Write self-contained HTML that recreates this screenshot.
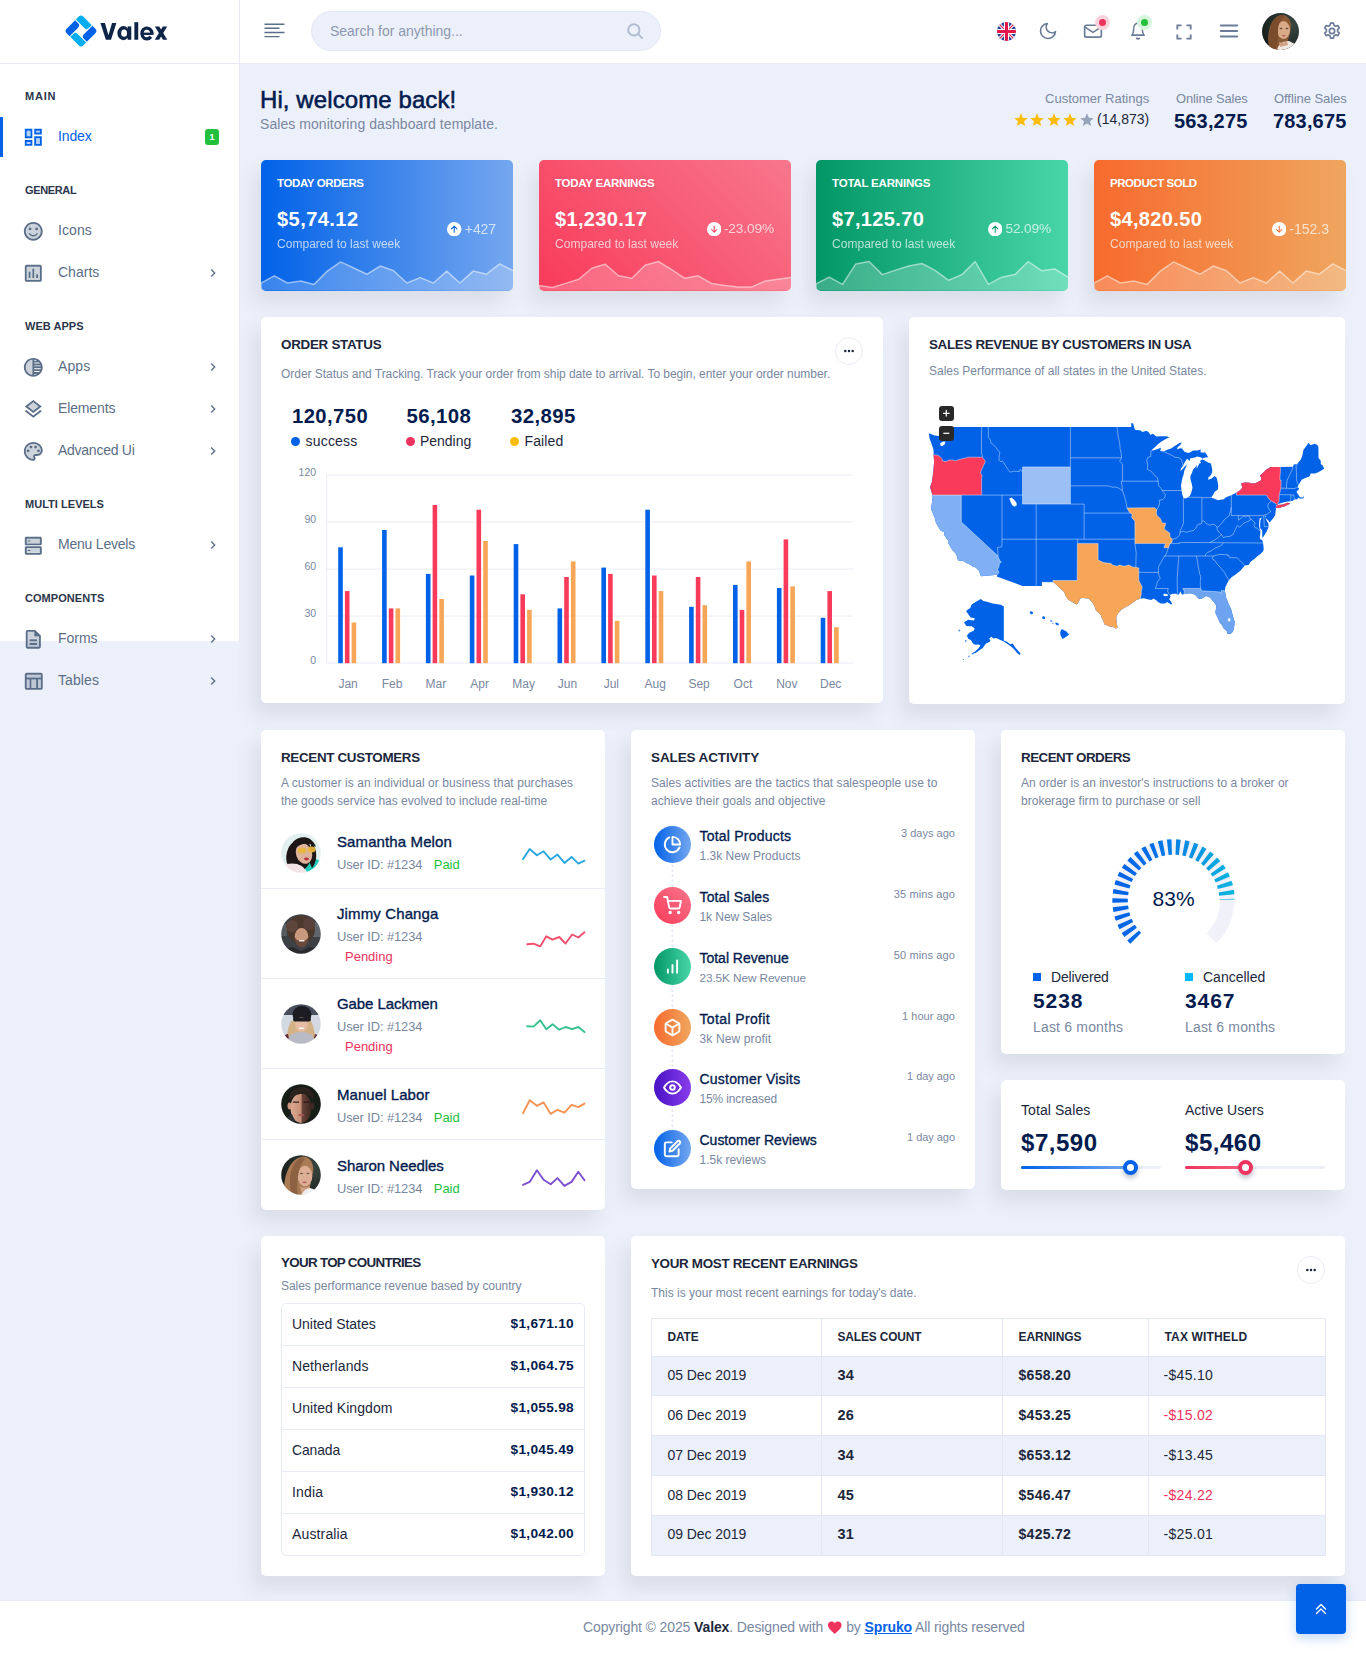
<!DOCTYPE html>
<html lang="en"><head>
<meta charset="utf-8">
<title>Valex - Dashboard</title>
<style>
*{box-sizing:border-box;margin:0;padding:0}
html,body{width:1366px;height:1654px;overflow:hidden}
body{font-family:"Liberation Sans",sans-serif;background:#ecf0fa;color:#031b4e;font-size:14px;position:relative}
.abs{position:absolute}
svg{display:block}
/* header */
#hdr{position:absolute;left:0;top:0;width:1366px;height:64px;background:#fff;border-bottom:1px solid #e9ecf6}
#logo{position:absolute;left:0;top:0;width:240px;height:64px;border-right:1px solid #eae8f4;border-bottom:1px solid #e8e7f3;background:#fff}
#side{position:absolute;left:0;top:64px;width:240px;height:577px;background:#fff;border-right:1px solid #eae8f4}
.slabel{position:absolute;left:25px;font-size:11px;font-weight:700;letter-spacing:.5px;color:#2c364c;line-height:12px;white-space:nowrap}
.sitem{position:absolute;left:0;width:240px;height:42px}
.sitem svg.ic{position:absolute;left:21.800px;top:9.700px;width:22.600px;height:22.600px;fill:#5b6e88}
.sitem .tx{position:absolute;left:58px;top:11px;font-size:14px;line-height:18px;color:#5b6e88;white-space:nowrap}
.sitem svg.ch{position:absolute;left:205px;top:12.900px;width:16px;height:16px;fill:#5b6e88}
.sitem.act .tx{color:#0162e8}
.sitem.act svg.ic{fill:#0162e8}
.sitem.act:before{content:"";position:absolute;left:0;top:1px;width:3px;height:40px;background:#0162e8}
.badge1{position:absolute;left:205px;top:13px;width:14px;height:16px;border-radius:3px;background:#22c03c;color:#fff;font-size:9px;font-weight:700;line-height:16px;text-align:center}
.card{position:absolute;background:#fff;border-radius:5px;box-shadow:-8px 12px 18px 0 #dadee8}
.ctitle{position:absolute;margin-top:.5px;font-size:13px;font-weight:700;color:#1c273c;white-space:nowrap;line-height:16px;letter-spacing:-.2px}
.csub{position:absolute;font-size:12px;color:#7987a1;line-height:18px;white-space:nowrap;letter-spacing:-.15px}
.t{position:absolute;white-space:nowrap}
</style>
</head>
<body>
<div id="hdr">
  <!-- hamburger -->
  <svg class="abs" style="left:262px;top:18px;width:24px;height:24px" viewBox="0 0 24 24" fill="none" stroke="#5b6e88" stroke-width="1.4" stroke-linecap="butt"><path d="M2.5 6.2h20M2.5 10.3h15M2.5 14.5h20M2.5 18.6h15"></path></svg>
  <!-- search -->
  <div class="abs" style="left:311px;top:11px;width:350px;height:40px;border-radius:20px;background:#ecf0fa;border:1px solid #e3e8f5"></div>
  <div class="t" style="left: 330px; top: 22px; font-size: 14px; line-height: 18px; color: rgb(140, 152, 176); letter-spacing: -0.02px;">Search for anything...</div>
  <svg class="abs" style="left:626px;top:22px;width:18px;height:18px" viewBox="0 0 24 24" fill="none" stroke="#b1bbd0" stroke-width="2.6" stroke-linecap="round"><circle cx="10.5" cy="10.5" r="7.5"></circle><path d="M21.5 21.500l-5.600-5.600"></path></svg>
  <!-- flag -->
  <svg class="abs" style="left:997.200px;top:22px;width:19px;height:19px" viewBox="0 0 20 20">
    <defs><clipPath id="fc"><circle cx="10" cy="10" r="10"></circle></clipPath></defs>
    <g clip-path="url(#fc)">
      <rect width="20" height="20" fill="#1f3f95"></rect>
      <path d="M-2 -2L22 22M22 -2L-2 22" stroke="#fff" stroke-width="3.200"></path>
      <path d="M-2 -2L22 22M22 -2L-2 22" stroke="#e4174a" stroke-width="1.200"></path>
      <path d="M10 0v20M0 10h20" stroke="#fff" stroke-width="5.400"></path>
      <path d="M10 0v20M0 10h20" stroke="#e4174a" stroke-width="3.200"></path>
    </g>
  </svg>
  <!-- moon -->
  <svg class="abs" style="left:1038px;top:21px;width:20px;height:20px" viewBox="0 0 24 24" fill="none" stroke="#6b7c99" stroke-width="2" stroke-linecap="round" stroke-linejoin="round"><path d="M21 12.790A9 9 0 1 1 11.210 3 7 7 0 0 0 21 12.790z"></path></svg>
  <!-- mail -->
  <svg class="abs" style="left:1083px;top:21px;width:20px;height:20px" viewBox="0 0 24 24" fill="none" stroke="#6b7c99" stroke-width="2" stroke-linecap="round" stroke-linejoin="round"><path d="M4 5.100h16c1.100 0 2 .9 2 2v10.300c0 1.100-.9 2-2 2H4c-1.100 0-2-.9-2-2V7.100c0-1.100.9-2 2-2z"></path><polyline points="22,7 12,13.600 2,7"></polyline></svg>
  <div class="abs" style="left:1095px;top:15px;width:15px;height:15px;border-radius:50%;background:#fbd3dd"></div>
  <div class="abs" style="left:1098.800px;top:18.800px;width:7.400px;height:7.400px;border-radius:50%;background:#ee335e"></div>
  <!-- bell -->
  <svg class="abs" style="left:1128px;top:21px;width:20px;height:20px" viewBox="0 0 24 24" fill="none" stroke="#6b7c99" stroke-width="2" stroke-linecap="round" stroke-linejoin="round"><g transform="translate(12 0) scale(.86 1) translate(-12 0)"><path d="M18 8.500A6 6 0 0 0 6 8.500c0 6.500-2.600 8.500-2.600 8.500h17.200s-2.600-2-2.600-8.500"></path></g><path d="M13.500 20.600a1.800 1.800 0 0 1-3 0"></path></svg>
  <div class="abs" style="left:1136.800px;top:14.700px;width:15px;height:15px;border-radius:50%;background:#d6f5dc"></div>
  <div class="abs" style="left:1140.600px;top:18.500px;width:7.400px;height:7.400px;border-radius:50%;background:#22c03c"></div>
  <!-- fullscreen -->
  <svg class="abs" style="left:1174px;top:22px;width:20px;height:20px" viewBox="0 0 24 24" fill="none" stroke="#6b7c99" stroke-width="2.2" stroke-linecap="butt" stroke-linejoin="miter"><path d="M4 9V4h5M15 4h5v5M20 15v5h-5M9 20H4v-5"></path></svg>
  <!-- menu -->
  <svg class="abs" style="left:1218px;top:20px;width:22px;height:22px" viewBox="0 0 24 24" fill="none" stroke="#6b7c99" stroke-width="2" stroke-linecap="round"><path d="M3 6h18M3 12h18M3 18h18"></path></svg>
  <!-- avatar -->
  <svg class="abs" style="left:1262px;top:13px;width:37px;height:37px" viewBox="0 0 37 37">
    <defs><clipPath id="avc"><circle cx="18.5" cy="18.5" r="18.5"></circle></clipPath>
    <radialGradient id="avbg" cx="0.8" cy="0.3" r="0.9"><stop offset="0" stop-color="#3a4a45"></stop><stop offset="1" stop-color="#121a18"></stop></radialGradient></defs>
    <g clip-path="url(#avc)">
      <rect width="37" height="37" fill="url(#avbg)"></rect>
      <path d="M8 37C4 24 7 8 16 3c7-3 13 2 13 10 0 6-2 11-3 14l3 10z" fill="#8a5a36"></path>
      <ellipse cx="21.500" cy="17" rx="6.500" ry="9" fill="#d9a988"></ellipse>
      <path d="M8 37C5 26 7 10 15 4c3-2 6-2 8-1-5 3-7 9-7 16 0 8-1 14-3 18z" fill="#7a4c2c"></path>
      <path d="M15 37c1-4 3-6 6-8l6-1 6 3 4 6z" fill="#efe9e4"></path>
      <path d="M17 29c2 1 6 1 8-1l1 4-8 2z" fill="#d3a184"></path>
      <ellipse cx="21.800" cy="22.800" rx="2" ry=".8" fill="#b5605e"></ellipse>
      <ellipse cx="19" cy="15.500" rx="1.400" ry=".7" fill="#5a4538"></ellipse><ellipse cx="25" cy="15.500" rx="1.400" ry=".7" fill="#5a4538"></ellipse>
    </g>
  </svg>
  <!-- settings -->
  <svg class="abs" style="left:1322px;top:21px;width:20px;height:20px" viewBox="0 0 24 24" fill="none" stroke="#6b7c99" stroke-width="2" stroke-linejoin="round" stroke-linecap="round"><circle cx="12" cy="12" r="3.200"></circle><path d="M10.300 2.500h3.400l.7 2.700 1.900 1.100 2.700-.8 1.700 2.900-2 2v2.200l2 2-1.700 2.900-2.700-.8-1.900 1.100-.7 2.700h-3.400l-.7-2.700-1.900-1.100-2.700.8-1.700-2.900 2-2v-2.200l-2-2 1.700-2.900 2.700.8 1.900-1.100z"></path></svg>
</div>
<div id="logo">
  <svg class="abs" style="left:61.200px;top:11.100px;width:40px;height:40px" viewBox="-20.500 -20.500 41 41">
    <g transform="rotate(45)">
      <path d="M-8.82 -12.02H3.53V-7.72A3.2 3.2 0 0 1 0.33 -4.52H-12.02V-8.82A3.2 3.2 0 0 1 -8.82 -12.02Z" fill="#00adef"></path>
      <path d="M-8.82 -12.02H3.53V-7.72A3.2 3.2 0 0 1 0.33 -4.52H-12.02V-8.82A3.2 3.2 0 0 1 -8.82 -12.02Z" fill="#0162e8" transform="rotate(90)"></path>
      <path d="M-8.82 -12.02H3.53V-7.72A3.2 3.2 0 0 1 0.33 -4.52H-12.02V-8.82A3.2 3.2 0 0 1 -8.82 -12.02Z" fill="#00adef" transform="rotate(180)"></path>
      <path d="M-8.82 -12.02H3.53V-7.72A3.2 3.2 0 0 1 0.33 -4.52H-12.02V-8.82A3.2 3.2 0 0 1 -8.82 -12.02Z" fill="#0162e8" transform="rotate(270)"></path>
    </g>
  </svg>
  <svg class="abs" style="left:96px;top:14px;width:80px;height:34px" viewBox="0 0 1366 581" fill="#0f2548">
    <path d="M75 152H152L212 362 273 152H348L256 440H168Z"></path>
    <path fill-rule="evenodd" d="M365 327a103 120 0 1 0 206 0a103 120 0 1 0-206 0ZM430 327a50 60 0 1 1 100 0a50 60 0 1 1-100 0Z"></path>
    <rect x="540" y="212" width="62" height="228"></rect>
    <rect x="655" y="140" width="66" height="300"></rect>
    <path d="M955 338A86 92 0 1 0 938 388" fill="none" stroke="#0f2548" stroke-width="56"></path>
    <path d="M800 338H982" fill="none" stroke="#0f2548" stroke-width="40"></path>
    <path d="M1006 215h74l138 225h-74Z"></path><path d="M1142 215h74l-138 225h-74Z"></path>
  </svg>
</div>
<div id="side"></div>
<div id="sidei" class="abs" style="left:0;top:0;width:240px;height:720px">
<div class="slabel" style="top: 90px; letter-spacing: 0.76px;">MAIN</div>
<div class="slabel" style="top: 184px; letter-spacing: -0.35px;">GENERAL</div>
<div class="slabel" style="top: 320px; letter-spacing: 0.03px;">WEB APPS</div>
<div class="slabel" style="top: 498px; letter-spacing: 0.03px;">MULTI LEVELS</div>
<div class="slabel" style="top: 592px; letter-spacing: 0.06px;">COMPONENTS</div>
<div class="sitem act" style="top:116px"><svg class="ic" viewBox="0 0 24 24"><path d="M5 5h4v6H5zm10 8h4v6h-4zM5 17h4v2H5zM15 5h4v2h-4z" opacity=".3"></path><path d="M3 13h8V3H3v10zm2-8h4v6H5V5zm8 16h8V11h-8v10zm2-8h4v6h-4v-6zM13 3v6h8V3h-8zm6 4h-4V5h4v2zM3 21h8v-6H3v6zm2-4h4v2H5v-2z"></path></svg><div class="tx" style="letter-spacing: -0.12px;">Index</div><div class="badge1">1</div></div>
<div class="sitem" style="top:210px"><svg class="ic" viewBox="0 0 24 24"><circle cx="12" cy="12" r="8.500" opacity=".3"></circle><circle cx="15.500" cy="9.500" r="1.500"></circle><circle cx="8.500" cy="9.500" r="1.500"></circle><path d="M12 16c-1.480 0-2.750-.810-3.450-2H6.880c.8 2.050 2.790 3.500 5.120 3.500s4.320-1.450 5.120-3.500h-1.670c-.7 1.190-1.970 2-3.450 2zm-.010-14C6.470 2 2 6.480 2 12s4.470 10 9.990 10C17.520 22 22 17.520 22 12S17.520 2 11.990 2zM12 20c-4.420 0-8-3.580-8-8s3.580-8 8-8 8 3.580 8 8-3.580 8-8 8z"></path></svg><div class="tx" style="letter-spacing: 0.07px;">Icons</div></div>
<div class="sitem" style="top:252px"><svg class="ic" viewBox="0 0 24 24"><path d="M5 19h14V5H5v14zm10-6h2v4h-2v-4zm-4-6h2v10h-2V7zm-4 3h2v7H7v-7z" opacity=".3"></path><path d="M19 3H5c-1.100 0-2 .9-2 2v14c0 1.100.9 2 2 2h14c1.100 0 2-.9 2-2V5c0-1.100-.9-2-2-2zm0 16H5V5h14v14zM7 10h2v7H7zm4-3h2v10h-2zm4 6h2v4h-2z"></path></svg><div class="tx" style="letter-spacing: 0.01px;">Charts</div><svg class="ch" viewBox="0 0 24 24"><path d="M8.590 16.580 13.170 12 8.590 7.410 10 6l6 6-6 6z"></path></svg></div>
<div class="sitem" style="top:346px"><svg class="ic" viewBox="0 0 24 24"><path d="M4 12c0 4.080 3.060 7.440 7 7.930V4.070C7.050 4.560 4 7.920 4 12z" opacity=".3"></path><path d="M12 2C6.480 2 2 6.480 2 12s4.480 10 10 10 10-4.480 10-10S17.520 2 12 2zm-1 17.930c-3.940-.49-7-3.850-7-7.930s3.050-7.440 7-7.930v15.860zm2-15.860c1.030.13 2 .45 2.870.93H13v-.93zM13 7h5.240c.25.310.48.650.68 1H13V7zm0 3h6.740c.08.330.15.660.19 1H13v-1zm0 9.930V19h2.870c-.87.480-1.840.8-2.870.93zM18.240 17H13v-1h5.920c-.2.350-.43.690-.68 1zm1.500-3H13v-1h6.930c-.04.340-.11.670-.19 1z"></path></svg><div class="tx" style="letter-spacing: 0.11px;">Apps</div><svg class="ch" viewBox="0 0 24 24"><path d="M8.590 16.580 13.170 12 8.590 7.410 10 6l6 6-6 6z"></path></svg></div>
<div class="sitem" style="top:388px"><svg class="ic" viewBox="0 0 24 24"><path d="M6.260 9L12 13.470 17.740 9 12 4.530z" opacity=".3"></path><path d="M19.370 12.800l-7.380 5.740-7.370-5.730L3 14.070l9 7 9-7zM12 2L3 9l1.630 1.270L12 16l7.360-5.730L21 9l-9-7zm0 11.470L6.260 9 12 4.530 17.740 9 12 13.470z"></path></svg><div class="tx" style="letter-spacing: -0.14px;">Elements</div><svg class="ch" viewBox="0 0 24 24"><path d="M8.590 16.580 13.170 12 8.590 7.410 10 6l6 6-6 6z"></path></svg></div>
<div class="sitem" style="top:430px"><svg class="ic" viewBox="0 0 24 24"><path d="M12 4c-4.410 0-8 3.590-8 8s3.590 8 8 8c.28 0 .5-.22.5-.5 0-.16-.08-.28-.14-.35-.41-.46-.63-1.050-.63-1.650 0-1.380 1.120-2.500 2.500-2.500H16c2.210 0 4-1.790 4-4 0-3.860-3.590-7-8-7z" opacity=".3"></path><path d="M12 2C6.490 2 2 6.490 2 12s4.490 10 10 10c1.380 0 2.500-1.120 2.500-2.500 0-.61-.23-1.210-.64-1.670-.08-.09-.13-.21-.13-.33 0-.28.220-.5.5-.5H16c3.310 0 6-2.690 6-6 0-4.960-4.490-9-10-9zm4 13h-1.770c-1.380 0-2.500 1.120-2.500 2.500 0 .61.220 1.190.63 1.650.06.070.14.190.14.350 0 .28-.22.5-.5.5-4.410 0-8-3.590-8-8s3.590-8 8-8 8 3.140 8 7c0 2.210-1.790 4-4 4z"></path><circle cx="6.500" cy="11.500" r="1.500"></circle><circle cx="9.500" cy="7.500" r="1.500"></circle><circle cx="14.500" cy="7.500" r="1.500"></circle><circle cx="17.500" cy="11.500" r="1.500"></circle></svg><div class="tx" style="letter-spacing: -0.26px;">Advanced Ui</div><svg class="ch" viewBox="0 0 24 24"><path d="M8.590 16.580 13.170 12 8.590 7.410 10 6l6 6-6 6z"></path></svg></div>
<div class="sitem" style="top:524px"><svg class="ic" viewBox="0 0 24 24"><path d="M4.500 5h15v5h-15zM4.500 14h15v5h-15z" opacity=".3"></path><path d="M19.500 3h-15C3.670 3 3 3.670 3 4.500v6c0 .83.670 1.500 1.500 1.500h15c.83 0 1.500-.67 1.500-1.500v-6c0-.83-.67-1.500-1.500-1.500zM19 10H5V5h14v5zM19.500 13h-15c-.83 0-1.500.67-1.500 1.500v6c0 .83.670 1.500 1.500 1.500h15c.83 0 1.500-.67 1.500-1.500v-6c0-.83-.67-1.500-1.500-1.500zM19 20H5v-5h14v5z"></path><path d="M6 7h3v1H6zM6 17h3v1H6z"></path></svg><div class="tx" style="letter-spacing: -0.22px;">Menu Levels</div><svg class="ch" viewBox="0 0 24 24"><path d="M8.590 16.580 13.170 12 8.590 7.410 10 6l6 6-6 6z"></path></svg></div>
<div class="sitem" style="top:618px"><svg class="ic" viewBox="0 0 24 24"><path d="M13 4H6v16h12V9h-5V4zm3 14H8v-2h8v2zm0-6v2H8v-2h8z" opacity=".3"></path><path d="M8 16h8v2H8zm0-4h8v2H8zm6-10H6c-1.100 0-2 .9-2 2v16c0 1.100.89 2 1.990 2H18c1.100 0 2-.9 2-2V8l-6-6zm4 18H6V4h7v5h5v11z"></path></svg><div class="tx" style="letter-spacing: -0.03px;">Forms</div><svg class="ch" viewBox="0 0 24 24"><path d="M8.590 16.580 13.170 12 8.590 7.410 10 6l6 6-6 6z"></path></svg></div>
<div class="sitem" style="top:660px"><svg class="ic" viewBox="0 0 24 24"><path d="M5 5h15v3H5zm12 5h3v9h-3zm-7 0h5v9h-5zm-5 0h3v9H5z" opacity=".3"></path><path d="M20 3H5c-1.100 0-2 .9-2 2v14c0 1.100.9 2 2 2h15c1.100 0 2-.9 2-2V5c0-1.100-.9-2-2-2zM8 19H5v-9h3v9zm7 0h-5v-9h5v9zm5 0h-3v-9h3v9zm0-11H5V5h15v3z"></path></svg><div class="tx" style="letter-spacing: 0.1px;">Tables</div><svg class="ch" viewBox="0 0 24 24"><path d="M8.590 16.580 13.170 12 8.590 7.410 10 6l6 6-6 6z"></path></svg></div>
</div>
<div class="t" style="left: 260px; top: 85px; font-size: 24px; line-height: 30px; font-weight: 400; -webkit-text-stroke: 0.55px rgb(3, 27, 78); color: rgb(3, 27, 78); letter-spacing: 0.09px;">Hi, welcome back!</div>
<div class="t" style="left: 260px; top: 115px; font-size: 14px; line-height: 18px; color: rgb(121, 135, 161); letter-spacing: 0.06px;">Sales monitoring dashboard template.</div>
<div class="t" style="left: 1045px; top: 90.8px; font-size: 13px; line-height: 16px; color: rgb(121, 135, 161); letter-spacing: 0.01px;">Customer Ratings</div>
<svg class="abs" style="left:1012.5px;top:111.500px;width:16px;height:16px" viewBox="0 0 24 24"><path d="M12 17.270 18.180 21l-1.640-7.030L22 9.240l-7.190-.61L12 2 9.190 8.630 2 9.240l5.460 4.730L5.820 21z" fill="#fbbc0b"></path></svg>
<svg class="abs" style="left:1029.0px;top:111.500px;width:16px;height:16px" viewBox="0 0 24 24"><path d="M12 17.270 18.180 21l-1.640-7.030L22 9.240l-7.190-.61L12 2 9.190 8.630 2 9.240l5.460 4.730L5.820 21z" fill="#fbbc0b"></path></svg>
<svg class="abs" style="left:1045.5px;top:111.500px;width:16px;height:16px" viewBox="0 0 24 24"><path d="M12 17.270 18.180 21l-1.640-7.030L22 9.240l-7.190-.61L12 2 9.190 8.630 2 9.240l5.460 4.730L5.820 21z" fill="#fbbc0b"></path></svg>
<svg class="abs" style="left:1062.0px;top:111.500px;width:16px;height:16px" viewBox="0 0 24 24"><path d="M12 17.270 18.180 21l-1.640-7.030L22 9.240l-7.190-.61L12 2 9.190 8.630 2 9.240l5.460 4.730L5.820 21z" fill="#fbbc0b"></path></svg>
<svg class="abs" style="left:1078.5px;top:111.500px;width:16px;height:16px" viewBox="0 0 24 24"><path d="M12 17.270 18.180 21l-1.640-7.030L22 9.240l-7.190-.61L12 2 9.190 8.630 2 9.240l5.460 4.730L5.820 21z" fill="#97a3b9"></path></svg>
<div class="t" style="left: 1097px; top: 110px; font-size: 14px; line-height: 18px; color: rgb(28, 39, 60); letter-spacing: 0.01px;">(14,873)</div>
<div class="t" style="left: 1176px; top: 90.8px; font-size: 12.9px; line-height: 16px; color: rgb(121, 135, 161); letter-spacing: -0.13px;">Online Sales</div>
<div class="t" style="left: 1174px; top: 108px; font-size: 20px; line-height: 26px; font-weight: 700; color: rgb(3, 27, 78); letter-spacing: 0.17px;">563,275</div>
<div class="t" style="left: 1274px; top: 90.8px; font-size: 13px; line-height: 16px; color: rgb(121, 135, 161); letter-spacing: -0.07px;">Offline Sales</div>
<div class="t" style="left: 1273px; top: 108px; font-size: 20px; line-height: 26px; font-weight: 700; color: rgb(3, 27, 78); letter-spacing: 0.17px;">783,675</div>
<div class="card" style="left:261px;top:160px;width:252px;height:130.5px;background:linear-gradient(to right,#0162e8 0%,#75a7ef 100%);overflow:hidden">
<div class="t" style="left: 16px; top: 15.3px; font-size: 11.5px; line-height: 16px; font-weight: 700; color: rgb(255, 255, 255); letter-spacing: -0.38px;">TODAY ORDERS</div>
<div class="t" style="left: 16px; top: 46px; font-size: 20.1px; line-height: 26px; font-weight: 700; color: rgb(255, 255, 255); letter-spacing: 0.41px;">$5,74.12</div>
<div class="t" style="left: 16px; top: 76.2px; font-size: 12px; line-height: 16px; color: rgb(255, 255, 255); opacity: 0.7; letter-spacing: 0.03px;">Compared to last week</div>
<div class="t" style="right: 17px; top: 60px; font-size: 14px; line-height: 18px; color: rgb(255, 255, 255); opacity: 0.7; letter-spacing: -0.1px;">+427</div>
<svg class="abs" style="left:186.4px;top:61.700px;width:14.400px;height:14.400px" viewBox="0 0 24 24"><circle cx="12" cy="12" r="12" fill="#fff"></circle><path d="M12 17V7.500M7.500 11.500 12 7l4.500 4.500" fill="none" stroke="#0162e8" stroke-width="1.700" stroke-linecap="round" stroke-linejoin="round"></path></svg>
<svg class="abs" style="left:0;top:0;width:252px;height:130.5px" viewBox="0 0 252 130.5"><path d="M0,130.5 L0.0,123.0 L13.3,115.8 L26.5,123.0 L39.8,120.9 L53.1,124.4 L66.3,111.1 L79.6,101.9 L92.8,108.0 L106.1,114.2 L119.4,106.0 L132.6,110.7 L145.9,123.0 L159.2,117.6 L172.4,123.0 L185.7,111.1 L198.9,123.0 L212.2,111.1 L225.5,114.2 L238.7,103.9 L252.0,110.7 L252,130.5Z" fill="#fff" fill-opacity=".22"></path><path d="M0,130.5 L0.0,123.0 L13.3,115.8 L26.5,123.0 L39.8,120.9 L53.1,124.4 L66.3,111.1 L79.6,101.9 L92.8,108.0 L106.1,114.2 L119.4,106.0 L132.6,110.7 L145.9,123.0 L159.2,117.6 L172.4,123.0 L185.7,111.1 L198.9,123.0 L212.2,111.1 L225.5,114.2 L238.7,103.9 L252.0,110.7" fill="none" stroke="#fff" stroke-opacity=".5" stroke-width="1.500" stroke-linejoin="round"></path></svg>
</div>
<div class="card" style="left:539px;top:160px;width:252px;height:130.5px;background:linear-gradient(45deg,#f93a5a 0%,#f7778c 100%);overflow:hidden">
<div class="t" style="left: 16px; top: 15.3px; font-size: 11.5px; line-height: 16px; font-weight: 700; color: rgb(255, 255, 255); letter-spacing: -0.24px;">TODAY EARNINGS</div>
<div class="t" style="left: 16px; top: 46px; font-size: 20px; line-height: 26px; font-weight: 700; color: rgb(255, 255, 255); letter-spacing: 0.35px;">$1,230.17</div>
<div class="t" style="left: 16px; top: 76.2px; font-size: 12px; line-height: 16px; color: rgb(255, 255, 255); opacity: 0.7; letter-spacing: 0.03px;">Compared to last week</div>
<div class="t" style="right: 17px; top: 60px; font-size: 13.7px; line-height: 18px; color: rgb(255, 255, 255); opacity: 0.7; letter-spacing: -0.13px;">-23.09%</div>
<svg class="abs" style="left:168.0px;top:61.700px;width:14.400px;height:14.400px" viewBox="0 0 24 24"><circle cx="12" cy="12" r="12" fill="#fff"></circle><path d="M12 7v9.500M7.500 12.500 12 17l4.500-4.500" fill="none" stroke="#f93a5a" stroke-width="1.700" stroke-linecap="round" stroke-linejoin="round"></path></svg>
<svg class="abs" style="left:0;top:0;width:252px;height:130.5px" viewBox="0 0 252 130.5"><path d="M0,130.5 L0.0,125.4 L13.3,127.5 L26.5,123.4 L39.8,119.3 L53.1,108.0 L66.3,104.3 L79.6,115.8 L92.8,118.3 L106.1,105.3 L119.4,101.5 L132.6,109.7 L145.9,118.3 L159.2,115.8 L172.4,123.4 L185.7,125.4 L198.9,126.9 L212.2,127.1 L225.5,121.3 L238.7,119.3 L252.0,117.6 L252,130.5Z" fill="#fff" fill-opacity=".22"></path><path d="M0,130.5 L0.0,125.4 L13.3,127.5 L26.5,123.4 L39.8,119.3 L53.1,108.0 L66.3,104.3 L79.6,115.8 L92.8,118.3 L106.1,105.3 L119.4,101.5 L132.6,109.7 L145.9,118.3 L159.2,115.8 L172.4,123.4 L185.7,125.4 L198.9,126.9 L212.2,127.1 L225.5,121.3 L238.7,119.3 L252.0,117.6" fill="none" stroke="#fff" stroke-opacity=".5" stroke-width="1.500" stroke-linejoin="round"></path></svg>
</div>
<div class="card" style="left:816px;top:160px;width:252px;height:130.5px;background:linear-gradient(to right,#029666 0%,#48d6a8 100%);overflow:hidden">
<div class="t" style="left: 16px; top: 15.3px; font-size: 11.5px; line-height: 16px; font-weight: 700; color: rgb(255, 255, 255); letter-spacing: -0.19px;">TOTAL EARNINGS</div>
<div class="t" style="left: 16px; top: 46px; font-size: 20px; line-height: 26px; font-weight: 700; color: rgb(255, 255, 255); letter-spacing: 0.35px;">$7,125.70</div>
<div class="t" style="left: 16px; top: 76.2px; font-size: 12px; line-height: 16px; color: rgb(255, 255, 255); opacity: 0.7; letter-spacing: 0.03px;">Compared to last week</div>
<div class="t" style="right: 17px; top: 60px; font-size: 13.7px; line-height: 18px; color: rgb(255, 255, 255); opacity: 0.7; letter-spacing: -0.14px;">52.09%</div>
<svg class="abs" style="left:171.9px;top:61.700px;width:14.400px;height:14.400px" viewBox="0 0 24 24"><circle cx="12" cy="12" r="12" fill="#fff"></circle><path d="M12 17V7.500M7.500 11.500 12 7l4.500 4.500" fill="none" stroke="#029666" stroke-width="1.700" stroke-linecap="round" stroke-linejoin="round"></path></svg>
<svg class="abs" style="left:0;top:0;width:252px;height:130.5px" viewBox="0 0 252 130.5"><path d="M0,130.5 L0.0,123.8 L13.3,117.2 L26.5,124.4 L39.8,103.9 L53.1,101.5 L66.3,114.6 L79.6,110.1 L92.8,106.0 L106.1,103.5 L119.4,110.7 L132.6,120.3 L145.9,114.6 L159.2,101.5 L172.4,124.4 L185.7,117.2 L198.9,114.6 L212.2,101.5 L225.5,110.7 L238.7,109.0 L252.0,117.2 L252,130.5Z" fill="#fff" fill-opacity=".22"></path><path d="M0,130.5 L0.0,123.8 L13.3,117.2 L26.5,124.4 L39.8,103.9 L53.1,101.5 L66.3,114.6 L79.6,110.1 L92.8,106.0 L106.1,103.5 L119.4,110.7 L132.6,120.3 L145.9,114.6 L159.2,101.5 L172.4,124.4 L185.7,117.2 L198.9,114.6 L212.2,101.5 L225.5,110.7 L238.7,109.0 L252.0,117.2" fill="none" stroke="#fff" stroke-opacity=".5" stroke-width="1.500" stroke-linejoin="round"></path></svg>
</div>
<div class="card" style="left:1094px;top:160px;width:252px;height:130.5px;background:linear-gradient(to right,#f76a2d 0%,#efa65f 100%);overflow:hidden">
<div class="t" style="left: 16px; top: 15.3px; font-size: 11.5px; line-height: 16px; font-weight: 700; color: rgb(255, 255, 255); letter-spacing: -0.45px;">PRODUCT SOLD</div>
<div class="t" style="left: 16px; top: 46px; font-size: 20px; line-height: 26px; font-weight: 700; color: rgb(255, 255, 255); letter-spacing: 0.35px;">$4,820.50</div>
<div class="t" style="left: 16px; top: 76.2px; font-size: 12px; line-height: 16px; color: rgb(255, 255, 255); opacity: 0.7; letter-spacing: 0.03px;">Compared to last week</div>
<div class="t" style="right: 17px; top: 60px; font-size: 14px; line-height: 18px; color: rgb(255, 255, 255); opacity: 0.7; letter-spacing: 0.01px;">-152.3</div>
<svg class="abs" style="left:177.9px;top:61.700px;width:14.400px;height:14.400px" viewBox="0 0 24 24"><circle cx="12" cy="12" r="12" fill="#fff"></circle><path d="M12 7v9.500M7.500 12.500 12 17l4.500-4.500" fill="none" stroke="#f76a2d" stroke-width="1.700" stroke-linecap="round" stroke-linejoin="round"></path></svg>
<svg class="abs" style="left:0;top:0;width:252px;height:130.5px" viewBox="0 0 252 130.5"><path d="M0,130.5 L0.0,123.0 L13.3,115.8 L26.5,123.0 L39.8,120.9 L53.1,124.4 L66.3,111.1 L79.6,101.9 L92.8,108.0 L106.1,114.2 L119.4,106.0 L132.6,110.7 L145.9,123.0 L159.2,117.6 L172.4,123.0 L185.7,111.1 L198.9,123.0 L212.2,111.1 L225.5,114.2 L238.7,103.9 L252.0,110.7 L252,130.5Z" fill="#fff" fill-opacity=".22"></path><path d="M0,130.5 L0.0,123.0 L13.3,115.8 L26.5,123.0 L39.8,120.9 L53.1,124.4 L66.3,111.1 L79.6,101.9 L92.8,108.0 L106.1,114.2 L119.4,106.0 L132.6,110.7 L145.9,123.0 L159.2,117.6 L172.4,123.0 L185.7,111.1 L198.9,123.0 L212.2,111.1 L225.5,114.2 L238.7,103.9 L252.0,110.7" fill="none" stroke="#fff" stroke-opacity=".5" stroke-width="1.500" stroke-linejoin="round"></path></svg>
</div>
<div class="card" style="left:261px;top:317px;width:622px;height:386px">
<div class="ctitle" style="left: 20px; top: 19px; font-size: 13.4px; letter-spacing: -0.28px;">ORDER STATUS</div>
<div class="csub" style="left: 20px; top: 48px; letter-spacing: -0.04px;">Order Status and Tracking. Track your order from ship date to arrival. To begin, enter your order number.</div>
<div class="abs" style="left:574px;top:20px;width:28px;height:28px;border-radius:50%;border:1px solid #e9edf6;background:#fff"></div>
<svg class="abs" style="left:582px;top:32px;width:12px;height:4px" viewBox="0 0 12 4"><circle cx="2.300" cy="2" r="1.250" fill="#1c273c"></circle><circle cx="6" cy="2" r="1.250" fill="#1c273c"></circle><circle cx="9.700" cy="2" r="1.250" fill="#1c273c"></circle></svg>
<div class="t" style="left: 31px; top: 86px; font-size: 20.2px; line-height: 26px; font-weight: 700; color: rgb(3, 27, 78); letter-spacing: 0.44px;">120,750</div>
<div class="abs" style="left:30px;top:120px;width:9px;height:9px;border-radius:50%;background:#0162e8"></div>
<div class="t" style="left: 44.5px; top: 115px; font-size: 14px; line-height: 18px; color: rgb(28, 39, 60); letter-spacing: 0.2px;">success</div>
<div class="t" style="left: 145.5px; top: 86px; font-size: 20.4px; line-height: 26px; font-weight: 700; color: rgb(3, 27, 78); letter-spacing: 0.39px;">56,108</div>
<div class="abs" style="left:144.5px;top:120px;width:9px;height:9px;border-radius:50%;background:#ee335e"></div>
<div class="t" style="left: 159px; top: 115px; font-size: 14px; line-height: 18px; color: rgb(28, 39, 60); letter-spacing: -0.02px;">Pending</div>
<div class="t" style="left: 250px; top: 86px; font-size: 20.4px; line-height: 26px; font-weight: 700; color: rgb(3, 27, 78); letter-spacing: 0.39px;">32,895</div>
<div class="abs" style="left:249px;top:120px;width:9px;height:9px;border-radius:50%;background:#fbbc0b"></div>
<div class="t" style="left: 263.5px; top: 115px; font-size: 14px; line-height: 18px; color: rgb(28, 39, 60); letter-spacing: 0.12px;">Failed</div>
<svg class="abs" style="left:0;top:0;width:622px;height:386px" viewBox="0 0 622 386" font-family="Liberation Sans, sans-serif"><path d="M65.6 346.2H592.0" stroke="#eef0f8" stroke-width="1.200"></path><text x="55.1" y="347.0" font-size="10.500" fill="#7987a1" text-anchor="end">0</text><path d="M65.6 299.2H592.0" stroke="#eef0f8" stroke-width="1.200"></path><text x="55.1" y="300.0" font-size="10.500" fill="#7987a1" text-anchor="end">30</text><path d="M65.6 252.2H592.0" stroke="#eef0f8" stroke-width="1.200"></path><text x="55.1" y="253.0" font-size="10.500" fill="#7987a1" text-anchor="end">60</text><path d="M65.6 205.2H592.0" stroke="#eef0f8" stroke-width="1.200"></path><text x="55.1" y="206.0" font-size="10.500" fill="#7987a1" text-anchor="end">90</text><path d="M65.6 158.2H592.0" stroke="#eef0f8" stroke-width="1.200"></path><text x="55.1" y="159.0" font-size="10.500" fill="#7987a1" text-anchor="end">120</text><path d="M65.6 158.2V346.2" stroke="#eef0f8" stroke-width="1.200"></path><rect x="77.2" y="230.3" width="4.6" height="115.9" fill="#0162e8"></rect><rect x="83.9" y="274.1" width="4.6" height="72.1" fill="#f93a5a"></rect><rect x="90.6" y="305.5" width="4.6" height="40.7" fill="#f7a556"></rect><text x="87.1" y="371.0" font-size="12" fill="#7987a1" text-anchor="middle">Jan</text><rect x="121.1" y="213.0" width="4.6" height="133.2" fill="#0162e8"></rect><rect x="127.8" y="291.4" width="4.6" height="54.8" fill="#f93a5a"></rect><rect x="134.5" y="291.4" width="4.6" height="54.8" fill="#f7a556"></rect><text x="131.0" y="371.0" font-size="12" fill="#7987a1" text-anchor="middle">Feb</text><rect x="164.9" y="256.9" width="4.6" height="89.3" fill="#0162e8"></rect><rect x="171.6" y="188.0" width="4.6" height="158.2" fill="#f93a5a"></rect><rect x="178.3" y="282.0" width="4.6" height="64.2" fill="#f7a556"></rect><text x="174.9" y="371.0" font-size="12" fill="#7987a1" text-anchor="middle">Mar</text><rect x="208.8" y="258.5" width="4.6" height="87.7" fill="#0162e8"></rect><rect x="215.5" y="192.7" width="4.6" height="153.5" fill="#f93a5a"></rect><rect x="222.2" y="224.0" width="4.6" height="122.2" fill="#f7a556"></rect><text x="218.7" y="371.0" font-size="12" fill="#7987a1" text-anchor="middle">Apr</text><rect x="252.7" y="227.1" width="4.6" height="119.1" fill="#0162e8"></rect><rect x="259.4" y="277.3" width="4.6" height="68.9" fill="#f93a5a"></rect><rect x="266.1" y="292.9" width="4.6" height="53.3" fill="#f7a556"></rect><text x="262.6" y="371.0" font-size="12" fill="#7987a1" text-anchor="middle">May</text><rect x="296.5" y="291.4" width="4.6" height="54.8" fill="#0162e8"></rect><rect x="303.2" y="260.0" width="4.6" height="86.2" fill="#f93a5a"></rect><rect x="309.9" y="244.4" width="4.6" height="101.8" fill="#f7a556"></rect><text x="306.5" y="371.0" font-size="12" fill="#7987a1" text-anchor="middle">Jun</text><rect x="340.4" y="250.6" width="4.6" height="95.6" fill="#0162e8"></rect><rect x="347.1" y="256.9" width="4.6" height="89.3" fill="#f93a5a"></rect><rect x="353.8" y="303.9" width="4.6" height="42.3" fill="#f7a556"></rect><text x="350.3" y="371.0" font-size="12" fill="#7987a1" text-anchor="middle">Jul</text><rect x="384.3" y="192.7" width="4.6" height="153.5" fill="#0162e8"></rect><rect x="391.0" y="258.5" width="4.6" height="87.7" fill="#f93a5a"></rect><rect x="397.7" y="274.1" width="4.6" height="72.1" fill="#f7a556"></rect><text x="394.2" y="371.0" font-size="12" fill="#7987a1" text-anchor="middle">Aug</text><rect x="428.1" y="289.8" width="4.6" height="56.4" fill="#0162e8"></rect><rect x="434.8" y="260.0" width="4.6" height="86.2" fill="#f93a5a"></rect><rect x="441.5" y="288.2" width="4.6" height="58.0" fill="#f7a556"></rect><text x="438.1" y="371.0" font-size="12" fill="#7987a1" text-anchor="middle">Sep</text><rect x="472.0" y="267.9" width="4.6" height="78.3" fill="#0162e8"></rect><rect x="478.7" y="292.9" width="4.6" height="53.3" fill="#f93a5a"></rect><rect x="485.4" y="244.4" width="4.6" height="101.8" fill="#f7a556"></rect><text x="481.9" y="371.0" font-size="12" fill="#7987a1" text-anchor="middle">Oct</text><rect x="515.9" y="271.0" width="4.6" height="75.2" fill="#0162e8"></rect><rect x="522.6" y="222.4" width="4.6" height="123.8" fill="#f93a5a"></rect><rect x="529.3" y="269.4" width="4.6" height="76.8" fill="#f7a556"></rect><text x="525.8" y="371.0" font-size="12" fill="#7987a1" text-anchor="middle">Nov</text><rect x="559.7" y="300.8" width="4.6" height="45.4" fill="#0162e8"></rect><rect x="566.4" y="274.1" width="4.6" height="72.1" fill="#f93a5a"></rect><rect x="573.1" y="310.2" width="4.6" height="36.0" fill="#f7a556"></rect><text x="569.7" y="371.0" font-size="12" fill="#7987a1" text-anchor="middle">Dec</text></svg>
</div>
<div class="card" style="left:909px;top:317px;width:436px;height:387px">
<div class="ctitle" style="left: 20px; top: 19px; font-size: 13.4px; letter-spacing: -0.33px;">SALES REVENUE BY CUSTOMERS IN USA</div>
<div class="csub" style="left: 20px; top: 45px; letter-spacing: 0px;">Sales Performance of all states in the United States.</div>
<svg class="abs" style="left:0;top:0;width:436px;height:387px" viewBox="0 0 436 387"><path d="M19.9 116.3 L25.6 118.5 L30.4 119.0 L33.1 118.6 L34.2 115.6 L34.8 112.5 L33.4 110.0 L222.3 110.0 L222.3 106.1 L224.3 106.6 L225.3 111.2 L226.7 113.1 L231.1 113.3 L233.5 114.9 L237.3 113.8 L239.4 115.1 L241.4 117.7 L244.1 116.7 L247.2 119.5 L252.0 119.2 L257.5 119.2 L260.4 120.2 L255.4 122.8 L251.3 125.3 L248.9 127.3 L245.9 130.3 L243.1 132.5 L243.8 133.5 L246.5 132.8 L250.0 131.6 L252.0 130.6 L251.3 134.1 L254.6 134.5 L258.8 132.5 L262.1 131.6 L265.3 129.3 L267.7 127.8 L270.5 126.1 L272.9 125.6 L271.2 128.1 L268.6 130.3 L268.1 132.5 L270.8 131.3 L273.2 131.6 L275.3 134.8 L278.3 135.8 L280.4 135.8 L284.2 133.6 L288.3 133.5 L291.7 132.6 L291.5 135.3 L294.4 135.8 L296.1 135.3 L297.8 137.7 L299.2 140.2 L296.1 140.5 L293.5 141.5 L291.7 140.2 L288.3 139.4 L284.8 140.7 L281.4 141.2 L280.5 143.9 L278.3 141.7 L277.5 142.6 L275.6 145.6 L273.9 148.9 L272.2 150.9 L271.2 154.2 L273.9 151.8 L276.3 148.9 L278.0 147.2 L277.0 149.9 L275.3 153.7 L274.6 157.5 L273.2 161.8 L272.0 168.4 L272.5 173.5 L273.2 177.1 L273.9 179.4 L274.9 181.3 L276.6 181.5 L278.7 180.6 L280.7 179.0 L282.1 176.2 L283.5 170.7 L282.8 167.0 L281.4 162.3 L281.4 159.0 L283.1 155.6 L284.2 152.3 L286.2 150.4 L287.9 148.0 L287.6 152.0 L288.6 149.9 L290.3 146.5 L292.0 146.0 L291.0 144.1 L293.4 142.3 L295.8 143.6 L299.2 145.6 L301.9 146.5 L302.6 149.4 L303.3 152.8 L303.1 155.5 L301.3 159.0 L299.5 159.9 L299.2 162.7 L302.3 161.8 L305.7 159.0 L307.8 160.9 L308.6 165.1 L309.3 168.8 L308.8 172.5 L305.7 174.8 L304.3 177.6 L302.1 180.5 L307.1 182.6 L309.5 183.3 L312.2 182.6 L314.3 182.6 L317.1 180.3 L322.3 178.2 L325.3 176.7 L327.5 175.6 L330.7 173.5 L332.7 171.6 L333.4 169.9 L332.4 168.1 L332.4 166.3 L336.1 165.4 L340.9 165.7 L342.3 166.5 L346.4 166.2 L349.8 164.6 L351.9 163.2 L352.2 160.4 L350.8 158.5 L353.9 156.1 L357.0 152.8 L361.8 149.9 L371.4 149.9 L384.0 149.8 L384.7 147.5 L387.4 147.0 L388.5 147.5 L388.8 146.0 L391.5 143.1 L392.6 140.7 L393.9 136.3 L394.3 133.3 L399.6 125.7 L401.5 128.3 L405.6 126.8 L408.0 127.8 L409.4 129.6 L409.5 140.9 L411.9 144.1 L411.7 147.0 L413.8 148.6 L415.1 151.7 L412.8 153.3 L408.6 155.6 L405.9 156.6 L401.8 156.6 L400.4 159.4 L395.7 161.3 L392.6 162.7 L391.9 164.2 L389.4 168.2 L388.7 170.0 L390.2 172.1 L387.4 174.8 L389.8 178.5 L390.9 180.3 L393.9 180.4 L394.1 179.0 L394.4 178.5 L394.6 181.1 L394.3 181.5 L390.5 181.5 L389.8 180.6 L388.1 182.2 L386.6 182.6 L384.7 182.6 L384.0 183.8 L381.6 184.3 L377.2 184.7 L373.1 185.8 L369.3 187.1 L367.5 188.2 L366.8 189.8 L366.9 192.1 L366.2 198.3 L363.8 201.8 L360.6 205.5 L359.1 203.2 L356.5 201.0 L357.2 197.9 L356.1 199.6 L357.0 202.3 L359.4 206.7 L359.7 209.7 L357.7 214.5 L353.4 221.2 L353.2 217.1 L353.2 213.6 L351.2 211.0 L351.2 206.7 L351.5 203.2 L352.9 200.5 L350.6 201.6 L350.2 205.4 L350.2 209.3 L351.0 213.2 L351.5 214.1 L351.2 217.1 L350.8 220.1 L351.2 222.2 L353.2 223.1 L354.1 226.0 L354.4 229.0 L354.7 232.1 L354.3 234.0 L353.0 235.4 L350.8 237.4 L348.3 239.3 L346.0 241.4 L341.6 244.8 L339.6 248.1 L335.8 248.5 L331.4 253.8 L326.6 257.5 L322.5 260.3 L320.1 263.1 L319.2 264.3 L316.3 270.3 L316.0 273.8 L316.3 276.3 L317.0 280.2 L319.7 287.2 L322.1 291.9 L323.8 298.8 L325.7 304.9 L324.9 311.8 L323.8 314.8 L321.8 316.7 L318.4 316.7 L317.7 314.0 L314.3 311.0 L313.2 308.0 L310.8 305.7 L309.5 302.6 L307.4 298.1 L306.4 295.7 L306.7 293.4 L307.4 288.8 L306.0 286.4 L304.0 284.1 L300.6 280.2 L297.2 279.0 L292.4 281.8 L289.6 281.8 L286.2 277.8 L281.4 276.3 L276.0 276.8 L274.9 277.2 L273.2 277.4 L272.2 276.3 L271.2 274.3 L270.3 277.2 L268.4 277.7 L267.1 276.7 L263.6 276.7 L260.7 278.0 L261.6 279.4 L260.2 282.2 L262.3 284.9 L263.3 287.2 L261.6 287.2 L258.2 284.9 L256.1 286.4 L252.0 286.4 L249.3 285.3 L247.2 283.3 L244.5 281.4 L242.4 282.9 L239.7 282.5 L234.9 281.2 L231.1 281.8 L227.4 282.9 L224.7 284.9 L220.5 288.0 L216.4 290.3 L212.3 292.7 L208.9 296.5 L207.2 300.4 L207.9 306.5 L208.6 310.6 L206.9 311.4 L204.1 309.9 L200.7 309.5 L195.2 307.2 L194.6 304.2 L192.5 300.4 L191.8 298.1 L187.0 293.4 L185.0 288.0 L182.6 284.5 L179.5 281.4 L173.3 281.0 L171.3 281.4 L169.2 285.7 L167.5 287.5 L167.2 287.2 L163.1 284.9 L159.0 282.5 L156.9 279.4 L154.9 274.7 L152.1 272.3 L148.0 268.3 L144.4 265.3 L132.9 265.3 L132.9 268.9 L113.4 268.9 L87.8 259.6 L88.4 257.7 L72.0 259.3 L71.4 257.9 L70.1 253.8 L66.6 250.6 L63.2 249.3 L60.5 247.3 L58.4 246.5 L54.3 244.0 L49.1 243.6 L47.8 239.0 L46.3 235.9 L43.7 233.6 L42.0 230.7 L38.9 225.6 L40.0 223.9 L38.3 222.6 L35.2 217.9 L35.2 215.3 L31.6 213.6 L26.8 205.4 L26.3 202.3 L22.1 192.2 L23.6 180.3 L23.5 178.1 L21.1 170.3 L22.9 165.1 L24.4 153.7 L25.1 145.1 L24.6 137.7 L24.6 133.3 L23.9 130.8 L20.5 121.2Z" fill="#0162e8"></path><path d="M366.7 190.7 L369.7 190.9 L375.1 189.4 L381.6 186.5 L378.5 185.8 L373.8 187.6 L369.0 188.1 L367.6 189.1Z" fill="#0162e8"></path><path d="M24.6 137.7 L29.0 138.4 L30.4 139.2 L33.1 141.7 L33.5 144.1 L37.2 144.6 L40.0 143.1 L44.1 143.1 L46.1 143.9 L48.9 142.9 L52.3 141.9 L56.4 141.0 L59.3 140.2 L73.3 140.2 L76.4 144.1 L75.2 147.0 L73.8 149.9 L72.1 153.7 L71.4 156.6 L73.1 158.0 L72.6 161.3 L72.6 178.1 L23.5 178.1 L21.1 170.3 L22.9 165.1 L24.4 153.7 L25.1 145.1Z" fill="#f93a5a"></path><path d="M327.5 178.1 L327.5 175.6 L330.7 173.5 L332.7 171.6 L333.4 169.9 L332.4 168.1 L332.4 166.3 L336.1 165.4 L340.9 165.7 L342.3 166.5 L346.4 166.2 L349.8 164.6 L351.9 163.2 L352.2 160.4 L350.8 158.5 L353.9 156.1 L357.0 152.8 L361.8 149.9 L371.4 149.9 L371.4 154.7 L371.0 159.4 L371.0 163.2 L372.1 163.2 L371.9 171.1 L370.3 177.6 L370.0 184.4 L368.8 186.2 L369.3 187.1 L367.5 188.2 L367.6 187.1 L362.2 183.9 L359.7 181.7 L357.7 178.1Z" fill="#f93a5a"></path><path d="M366.7 190.7 L369.7 190.9 L375.1 189.4 L381.6 186.5 L378.5 185.8 L373.8 187.6 L369.0 188.1 L367.6 189.1Z" fill="#f93a5a"></path><path d="M113.5 149.9 L161.4 149.9 L161.4 187.1 L113.5 187.1Z" fill="#9ac0f5"></path><path d="M23.5 178.1 L52.3 178.1 L52.3 204.9 L89.0 239.0 L89.4 240.3 L90.7 243.6 L92.4 245.0 L90.4 246.5 L89.7 250.6 L88.5 252.2 L89.9 255.5 L88.4 257.7 L72.0 259.3 L71.4 257.9 L70.1 253.8 L66.6 250.6 L63.2 249.3 L60.5 247.3 L58.4 246.5 L54.3 244.0 L49.1 243.6 L47.8 239.0 L46.3 235.9 L43.7 233.6 L42.0 230.7 L38.9 225.6 L40.0 223.9 L38.3 222.6 L35.2 217.9 L35.2 215.3 L31.6 213.6 L26.8 205.4 L26.3 202.3 L22.1 192.2 L23.6 180.3Z" fill="#80b0f3"></path><path d="M316.0 273.8 L316.3 276.3 L317.0 280.2 L319.7 287.2 L322.1 291.9 L323.8 298.8 L325.7 304.9 L324.9 311.8 L323.8 314.8 L321.8 316.7 L318.4 316.7 L317.7 314.0 L314.3 311.0 L313.2 308.0 L310.8 305.7 L309.5 302.6 L307.4 298.1 L306.4 295.7 L306.7 293.4 L307.4 288.8 L306.0 286.4 L304.0 284.1 L300.6 280.2 L297.2 279.0 L292.4 281.8 L289.6 281.8 L286.2 277.8 L281.4 276.3 L276.0 276.8 L274.9 277.2 L275.3 274.3 L273.9 271.5 L291.7 271.5 L292.6 273.8 L310.8 274.9 L311.9 276.6 L312.2 273.5Z" fill="#6ea3f0"></path><path d="M218.0 190.9 L245.6 190.7 L247.8 192.7 L247.2 196.1 L248.2 198.8 L251.3 201.4 L252.7 204.9 L253.7 206.2 L256.5 206.1 L256.3 208.2 L255.1 211.9 L257.5 213.8 L260.9 216.2 L260.9 219.6 L263.3 222.2 L263.0 225.2 L260.9 226.4 L259.5 230.7 L255.0 230.7 L256.5 226.4 L225.9 226.4 L225.9 203.9 L224.0 202.3 L222.6 200.1 L223.3 197.4 L221.2 196.1 L219.5 193.9Z" fill="#f7a556"></path><path d="M168.6 226.4 L189.1 226.4 L189.1 242.7 L191.1 244.0 L194.6 245.6 L198.7 246.1 L202.1 246.5 L203.4 248.1 L208.2 249.3 L210.3 248.1 L212.3 248.5 L215.1 249.3 L219.9 248.1 L224.0 250.2 L226.8 250.2 L229.8 251.0 L229.8 263.5 L231.5 266.7 L233.2 269.9 L232.2 274.7 L232.2 277.8 L231.1 281.8 L227.4 282.9 L224.7 284.9 L220.5 288.0 L216.4 290.3 L212.3 292.7 L208.9 296.5 L207.2 300.4 L207.9 306.5 L208.6 310.6 L206.9 311.4 L204.1 309.9 L200.7 309.5 L195.2 307.2 L194.6 304.2 L192.5 300.4 L191.8 298.1 L187.0 293.4 L185.0 288.0 L182.6 284.5 L179.5 281.4 L173.3 281.0 L171.3 281.4 L169.2 285.7 L167.5 287.5 L167.2 287.2 L163.1 284.9 L159.0 282.5 L156.9 279.4 L154.9 274.7 L152.1 272.3 L148.0 268.3 L144.4 265.3 L143.8 263.5 L168.2 263.5 L168.3 226.4Z" fill="#f7a556"></path><path d="M24.6 137.7 L29.0 138.4 L30.4 139.2 L33.1 141.7 L33.5 144.1 L37.2 144.6 L40.0 143.1 L44.1 143.1 L46.1 143.9 L48.9 142.9 L52.3 141.9 L56.4 141.0 L59.3 140.2 L73.3 140.2 M72.6 110.0 L72.5 136.1 L73.3 138.5 L73.3 140.2 M73.3 140.2 L76.4 144.1 L75.2 147.0 L73.8 149.9 L72.1 153.7 L71.4 156.6 L73.1 158.0 L72.6 161.3 L72.6 178.1 M23.5 178.1 L113.5 178.1 M52.3 178.1 L52.3 204.9 L89.0 239.0 M89.0 239.0 L89.4 240.3 L90.7 243.6 L92.4 245.0 L90.4 246.5 L89.7 250.6 L88.5 252.2 L89.9 255.5 L88.4 257.7 M93.0 178.1 L93.0 229.0 L92.6 229.8 L88.3 230.5 L88.9 234.0 L89.0 239.0 M79.3 110.0 L79.4 120.4 L81.6 123.3 L81.7 125.8 L84.4 127.8 L86.8 130.3 L89.2 133.8 L90.9 135.3 L90.2 138.7 L89.9 143.1 L91.3 144.6 L93.7 144.1 L96.7 148.9 L98.5 151.8 L101.2 155.2 L104.6 154.2 L110.4 154.5 L111.2 152.3 L112.8 154.2 L113.5 155.0 M113.5 149.9 L113.5 187.1 M113.5 149.9 L161.4 149.9 M161.4 110.0 L161.4 187.1 M161.4 140.8 L212.6 140.8 M161.4 168.8 L199.3 168.8 L203.4 170.2 L206.9 170.1 L209.6 171.1 L213.4 173.5 M113.5 187.1 L175.1 187.1 M127.2 187.1 L127.2 268.9 M93.0 222.2 L225.9 222.2 M175.1 187.1 L175.1 222.2 M175.1 196.1 L221.2 196.1 M168.6 222.2 L168.6 226.4 M168.3 226.4 L168.2 263.5 L143.8 263.5 L144.4 265.3 M144.4 265.3 L132.9 265.3 M168.6 226.4 L189.1 226.4 L189.1 242.7 L191.1 244.0 L194.6 245.6 L198.7 246.1 L202.1 246.5 L203.4 248.1 L208.2 249.3 L210.3 248.1 L212.3 248.5 L215.1 249.3 L219.9 248.1 L224.0 250.2 L226.8 250.2 L229.8 251.0 M213.4 173.5 L215.1 178.1 L215.8 180.8 L217.0 184.9 L217.5 188.1 L218.0 190.9 L219.5 193.9 L221.2 196.1 L223.3 197.4 L222.6 200.1 L224.0 202.3 L225.9 203.9 M225.9 203.9 L225.9 226.4 L227.2 235.7 L226.8 250.2 M229.8 251.0 L229.8 263.5 L231.5 266.7 L233.2 269.9 L232.2 274.7 L232.2 277.8 L231.1 281.8 M229.8 255.3 L249.5 255.5 M225.9 226.4 L256.5 226.4 L255.0 230.7 L259.5 230.7 M208.0 110.0 L208.6 115.1 L209.3 120.2 L210.6 125.3 L211.1 131.3 L212.3 137.2 L212.6 140.8 L210.6 144.1 L213.4 147.0 L213.4 164.2 L212.3 164.2 L213.0 168.8 L213.4 173.5 M213.4 164.2 L249.1 164.2 M218.0 190.9 L245.6 190.7 L247.8 192.7 M243.8 133.5 L241.8 133.8 L241.8 139.4 L238.7 140.7 L237.6 144.1 L238.7 147.0 L238.5 149.9 L238.3 152.3 L241.8 154.2 L243.5 155.6 L246.2 159.0 L248.6 160.9 L249.1 164.2 M249.1 164.2 L249.6 168.8 L252.4 171.6 L253.0 173.5 L256.3 177.1 L256.1 179.9 L253.7 182.6 L250.3 183.3 L250.6 185.8 L250.0 189.0 L247.8 192.7 L247.2 196.1 L248.2 198.8 L251.3 201.4 L252.7 204.9 L253.7 206.2 L256.5 206.1 L256.3 208.2 L255.1 211.9 L257.5 213.8 L260.9 216.2 L260.9 219.6 L263.3 222.2 L263.0 225.2 L260.9 226.4 L259.5 230.7 L258.2 234.0 L257.0 237.8 L255.4 239.0 L254.1 241.5 L252.4 244.8 L250.3 248.1 L249.3 251.4 L249.5 255.5 L250.0 258.7 L251.3 261.1 L248.2 265.1 L247.9 267.1 L246.3 271.5 L259.3 271.5 L258.5 273.9 L259.5 276.3 L260.7 278.0 M254.6 134.5 L263.6 138.7 L265.7 140.2 L270.1 140.7 L272.2 142.1 L273.6 146.5 L273.9 148.9 M253.1 173.5 L272.5 173.5 M274.4 180.3 L274.4 201.8 L274.6 205.8 L272.9 210.2 L271.2 213.6 L271.0 215.3 M322.3 190.4 L321.8 192.5 L320.1 198.8 L315.3 202.6 L313.2 205.8 L310.8 208.4 L309.1 210.0 L308.1 210.2 L305.4 207.3 L300.6 208.0 L297.2 206.7 L295.1 204.0 L292.9 204.0 L292.7 206.7 L288.9 207.3 L286.6 211.3 L284.5 213.6 L281.4 214.1 L277.3 215.3 L274.2 214.1 L271.0 215.3 L270.5 218.4 L267.1 221.3 L263.3 222.2 M292.9 180.8 L292.9 204.0 M279.2 180.3 L292.9 180.3 L292.9 180.8 L302.1 180.5 M322.3 178.2 L322.3 198.6 M322.3 198.6 L354.7 198.6 M329.4 198.6 L329.4 203.2 L332.4 201.0 L334.4 199.2 L336.5 200.1 L338.2 198.8 L340.6 199.6 L341.4 202.1 L342.6 202.3 L344.3 204.5 L346.1 205.8 L345.0 208.4 L346.1 210.6 L347.4 211.0 L351.5 214.1 M341.4 202.1 L340.7 203.8 L337.5 204.9 L334.1 206.7 L330.7 210.2 L328.3 208.4 L325.9 213.6 L323.8 217.9 L320.1 219.6 L317.7 219.6 L314.3 220.5 L312.4 217.5 L309.5 214.9 L308.1 212.3 L308.1 210.2 M312.4 217.5 L309.8 220.1 L305.4 223.1 L300.7 225.6 M314.4 225.7 L300.7 225.6 L270.8 225.4 L270.8 226.4 L260.9 226.4 M314.4 225.7 L354.1 226.0 M314.4 225.7 L312.9 228.1 L309.5 229.8 L306.0 231.1 L303.7 232.8 L301.3 234.4 L298.5 235.3 L296.5 237.4 L296.3 239.0 M255.4 239.0 L304.6 239.0 M269.8 239.0 L268.2 261.1 L268.4 277.7 M287.5 239.0 L290.5 256.5 L291.8 259.7 L291.3 263.5 L291.3 267.5 L291.7 271.5 L292.6 273.8 M274.9 277.2 L275.3 274.3 L273.9 271.5 L291.7 271.5 M292.6 273.8 L310.8 274.9 L311.9 276.6 L312.2 273.5 L316.0 273.8 M304.6 239.0 L303.0 241.5 L306.0 243.6 L308.4 247.3 L312.4 251.6 L315.6 255.5 L317.7 259.5 L320.1 263.1 M304.6 239.0 L310.2 237.4 L318.7 237.8 L318.7 238.6 L319.7 238.2 L320.4 240.7 L328.1 240.7 L335.8 248.5 M354.7 198.6 L355.3 209.6 L359.7 209.7 M354.7 198.6 L356.0 197.6 L357.2 197.9 M357.2 197.9 L359.2 196.5 L361.8 194.8 L358.7 189.8 L359.2 187.1 L362.2 183.9 L359.7 181.7 L357.7 178.1 M357.7 178.1 L327.5 178.1 L327.5 175.6 M362.2 183.9 L367.6 187.1 M369.3 187.1 L368.8 186.2 L370.0 184.4 L370.3 177.6 L371.9 171.1 L372.1 163.2 L371.0 163.2 L371.0 159.4 L371.4 154.7 L371.4 149.9 M384.0 149.8 L383.3 152.3 L381.6 156.1 L379.9 159.4 L378.2 163.2 L377.5 167.9 L377.5 171.3 M371.9 171.1 L377.5 171.3 L385.4 171.6 L388.7 170.0 M370.3 177.6 L382.0 177.8 L384.8 177.9 L385.0 180.3 L386.6 182.6 M382.0 177.9 L381.6 184.3 M389.4 168.2 L387.6 163.5 L387.1 147.0" fill="none" stroke="#fff" stroke-opacity=".6" stroke-width=".7" stroke-linejoin="round"></path><path d="M100.2 181.4 L102.5 180.6 L104.8 182.6 L107.5 185.7 L107.8 188.3 L105.5 189.8 L103.2 188.3 L101.7 185.2Z" fill="#fff"></path><path d="M31.0 126.4 L34.1 124.5 L36.5 124.8 L35.6 127.3 L33.3 129.1 L31.8 128.8Z" fill="#fff"></path><path d="M320.1 301.1 L321.4 301.9 L321.4 303.8 L320.1 304.8 L318.7 303.4 L319.0 301.9Z" fill="#fff"></path><path d="M254.7 276.7 L257.8 277.0 L259.2 278.0 L258.5 279.0 L256.1 279.2 L254.4 278.6Z" fill="#fff"></path><path d="M71.8 282.1 L74.3 284.1 L77.9 284.7 L83.7 286.4 L91.9 287.8 L94.8 289.4 L94.8 323.6 L98.0 324.7 L101.3 327.3 L103.6 326.5 L106.9 331.2 L111.6 336.6 L110.8 338.0 L108.0 336.0 L105.3 332.6 L102.0 329.5 L98.5 327.0 L94.8 324.4 L91.9 323.3 L87.2 321.0 L84.3 321.6 L82.5 319.8 L80.2 321.6 L81.6 323.9 L79.0 325.7 L77.3 326.3 L75.5 328.6 L73.8 330.9 L70.8 333.0 L67.3 335.4 L63.8 337.0 L62.6 338.0 L63.2 336.2 L66.1 334.4 L69.7 330.9 L71.4 328.6 L69.7 327.4 L66.1 327.7 L63.8 326.3 L62.0 323.3 L59.1 321.6 L57.9 318.6 L60.3 315.7 L65.0 313.6 L65.6 311.3 L62.6 309.3 L57.4 308.9 L55.0 305.4 L59.1 302.8 L65.0 303.6 L65.8 301.3 L61.7 300.5 L59.1 297.0 L57.0 294.0 L61.2 290.9 L62.6 287.6 L66.1 285.3Z" fill="#0162e8"></path><circle cx="50.3" cy="313.4" r="1.0" fill="#0162e8" fill-opacity=".7"></circle><circle cx="56.8" cy="323.9" r="0.9" fill="#0162e8" fill-opacity=".7"></circle><circle cx="60.0" cy="339.4" r="0.8" fill="#0162e8" fill-opacity=".7"></circle><circle cx="54.4" cy="342.4" r="0.6" fill="#0162e8" fill-opacity=".7"></circle><ellipse cx="122.4" cy="295.8" rx="1.7" ry="1.3" fill="#0162e8" transform="rotate(25 122.4 295.8)"></ellipse><ellipse cx="134.7" cy="300.7" rx="1.6" ry="1.3" fill="#0162e8" transform="rotate(25 134.7 300.7)"></ellipse><ellipse cx="142.3" cy="304.0" rx="1.2" ry="0.5" fill="#0162e8" transform="rotate(25 142.3 304.0)"></ellipse><ellipse cx="148.1" cy="306.9" rx="1.9" ry="1.1" fill="#0162e8" transform="rotate(25 148.1 306.9)"></ellipse><ellipse cx="144.0" cy="306.6" rx="0.6" ry="0.5" fill="#0162e8" transform="rotate(25 144.0 306.6)"></ellipse><path d="M152.8 312.0 L156.9 314.3 L160.1 317.5 L156.9 320.0 L153.4 321.9 L151.6 318.3 L151.1 315.1Z" fill="#0162e8"></path></svg>
<div class="abs" style="left:30.2px;top:89.2px;width:14.600px;height:14.600px;border-radius:3px;background:#292929"></div>
<svg class="abs" style="left:30.2px;top:89.2px;width:14.600px;height:14.600px" viewBox="0 0 14.600 14.600"><path d="M4 7.300h6.600M7.300 4v6.600" stroke="#fff" stroke-width="1.250" fill="none"></path></svg>
<div class="abs" style="left:30.2px;top:109.2px;width:14.600px;height:14.600px;border-radius:3px;background:#292929"></div>
<svg class="abs" style="left:30.2px;top:109.2px;width:14.600px;height:14.600px" viewBox="0 0 14.600 14.600"><path d="M4.300 7.300h6" stroke="#fff" stroke-width="1.250" fill="none"></path></svg>
</div>
<div class="card" style="left:261px;top:730px;width:344px;height:480px">
<div class="ctitle" style="left: 20px; top: 19px; font-size: 13.4px; letter-spacing: -0.33px;">RECENT CUSTOMERS</div>
<div class="csub" style="left: 20px; top: 44px; letter-spacing: 0.06px;">A customer is an individual or business that purchases</div>
<div class="csub" style="left: 20px; top: 62px; letter-spacing: 0px;">the goods service has evolved to include real-time</div>
<svg class="abs" style="left:20px;top:103px;width:40px;height:40px" viewBox="0 0 40 40"><defs><clipPath id="cav0"><circle cx="20" cy="20" r="19.800"></circle></clipPath><filter id="bl0" x="-10%" y="-10%" width="120%" height="120%"><feGaussianBlur stdDeviation=".6"></feGaussianBlur></filter></defs><g clip-path="url(#cav0)"><g filter="url(#bl0)"><rect x="-2" y="-2" width="44" height="44" fill="#e2efef"></rect><ellipse cx="33" cy="34" rx="9" ry="8" fill="#1fc9ba"></ellipse><ellipse cx="18" cy="22.500" rx="12.500" ry="16.500" transform="rotate(14 18 22.500)" fill="#1c1817"></ellipse><path d="M30 9c4 4 6 10 5 17-1 4-2 7-4 9l-3-7c2-6 2-12 2-19z" fill="#1c1817"></path><ellipse cx="23" cy="20.500" rx="8" ry="10.500" transform="rotate(-18 23 20.500)" fill="#dfb29a"></ellipse><path d="M12 9c4-5 12-6 17-3 3 2 5 5 6 8-4-3-8-4-13-3-4 1-7 3-10 7z" fill="#1c1817"></path><ellipse cx="21" cy="17.500" rx="4.200" ry="3" fill="#e9b63c" fill-opacity=".92"></ellipse><ellipse cx="30.500" cy="16.500" rx="4" ry="3" fill="#e9b63c" fill-opacity=".92"></ellipse><ellipse cx="25.500" cy="26" rx="2.400" ry="1.400" fill="#b3323c"></ellipse><ellipse cx="11" cy="38" rx="13" ry="7.500" fill="#f4e3e6"></ellipse></g></g></svg>
<div class="t" style="left: 76px; top: 102px; font-size: 15px; line-height: 20px; font-weight: 400; -webkit-text-stroke: 0.35px rgb(3, 27, 78); color: rgb(3, 27, 78); letter-spacing: 0.11px;">Samantha Melon</div>
<div class="t" style="left: 76px; top: 126px; font-size: 12.9px; line-height: 18px; color: rgb(121, 135, 161); letter-spacing: -0.1px;">User ID: #1234</div>
<div class="t" style="left: 172.8px; top: 126px; font-size: 13px; line-height: 18px; color: rgb(34, 192, 60); letter-spacing: -0.05px;">Paid</div>
<svg class="abs" style="left:0;top:0;width:344px;height:480px" viewBox="0 0 344 480"><path d="M262.0 129.1 L268.7 119.0 L275.9 125.3 L282.6 121.3 L289.7 129.6 L296.5 124.6 L303.4 132.9 L310.6 126.9 L317.3 133.6 L323.5 130.7" fill="none" stroke="#29a8e0" stroke-width="1.900" stroke-linejoin="round" stroke-linecap="round"></path></svg>
<div class="abs" style="left:0;top:158px;width:344px;height:1px;background:#e6ebf5"></div>
<svg class="abs" style="left:20px;top:183.8px;width:40px;height:40px" viewBox="0 0 40 40"><defs><clipPath id="cav1"><circle cx="20" cy="20" r="19.800"></circle></clipPath><filter id="bl1" x="-10%" y="-10%" width="120%" height="120%"><feGaussianBlur stdDeviation=".6"></feGaussianBlur></filter></defs><g clip-path="url(#cav1)"><g filter="url(#bl1)"><rect x="-2" y="-2" width="44" height="44" fill="#3d4144"></rect><rect x="29" y="8" width="13" height="15" fill="#5e666c"></rect><rect x="-2" y="10" width="8" height="12" fill="#565c60"></rect><circle cx="20" cy="15.500" r="14" fill="#4e382f"></circle><circle cx="11" cy="12" r="6" fill="#5d453a"></circle><circle cx="28" cy="10" r="6" fill="#59413a"></circle><ellipse cx="20.500" cy="22.500" rx="6.800" ry="8.500" fill="#c8997f"></ellipse><path d="M13.500 23c.5 7 4 10.500 7 10.500s6.500-3.500 7-10.500c-2 3-4 4-7 4s-5-1-7-4z" fill="#6a4a3c"></path><rect x="18" y="26" width="5.500" height="1.600" rx=".6" fill="#efe6e0"></rect><path d="M1 42c2-7 8-9 11-9l8 4 8-4c3 0 9 2 11 9z" fill="#2b2c2f"></path></g></g></svg>
<div class="t" style="left: 76px; top: 174px; font-size: 15px; line-height: 20px; font-weight: 400; -webkit-text-stroke: 0.35px rgb(3, 27, 78); color: rgb(3, 27, 78); letter-spacing: 0.12px;">Jimmy Changa</div>
<div class="t" style="left: 76px; top: 198px; font-size: 12.9px; line-height: 18px; color: rgb(121, 135, 161); letter-spacing: -0.1px;">User ID: #1234</div>
<div class="t" style="left: 84px; top: 217.5px; font-size: 13px; line-height: 18px; color: rgb(238, 51, 94); letter-spacing: -0.01px;">Pending</div>
<svg class="abs" style="left:0;top:0;width:344px;height:480px" viewBox="0 0 344 480"><path d="M266.2 214.2 L272.5 213.7 L279.2 216.4 L285.3 206.3 L291.5 209.7 L298.3 207.0 L304.5 213.5 L311.2 204.5 L317.3 207.5 L323.5 202.3" fill="none" stroke="#f0506e" stroke-width="1.900" stroke-linejoin="round" stroke-linecap="round"></path></svg>
<div class="abs" style="left:0;top:248px;width:344px;height:1px;background:#e6ebf5"></div>
<svg class="abs" style="left:20px;top:273.7px;width:40px;height:40px" viewBox="0 0 40 40"><defs><clipPath id="cav2"><circle cx="20" cy="20" r="19.800"></circle></clipPath><filter id="bl2" x="-10%" y="-10%" width="120%" height="120%"><feGaussianBlur stdDeviation=".6"></feGaussianBlur></filter></defs><g clip-path="url(#cav2)"><g filter="url(#bl2)"><rect x="-2" y="-2" width="44" height="44" fill="#d3d9e3"></rect><rect x="-2" y="-2" width="44" height="13" fill="#4a4f5c"></rect><path d="M10 17c-3 6-5 15-4 23h28c1-8-1-17-4-23z" fill="#d4b288"></path><ellipse cx="21" cy="10.500" rx="9.500" ry="8.500" fill="#1c1c22"></ellipse><ellipse cx="20.500" cy="20.500" rx="6.300" ry="7.300" fill="#e6bca4"></ellipse><rect x="12" y="13.500" width="18" height="4" rx="2" fill="#1c1c22"></rect><rect x="18" y="23.500" width="5" height="1.400" rx=".6" fill="#fff"></rect><path d="M-1 42c0-7 3-11 8-12l3 12z" fill="#5b2b37"></path><path d="M41 42c0-7-3-11-7-12l-3 12z" fill="#5b2b37"></path><ellipse cx="20" cy="34.500" rx="12.500" ry="6.500" fill="#b9bac6"></ellipse></g></g></svg>
<div class="t" style="left: 76px; top: 264px; font-size: 15px; line-height: 20px; font-weight: 400; -webkit-text-stroke: 0.35px rgb(3, 27, 78); color: rgb(3, 27, 78); letter-spacing: -0.08px;">Gabe Lackmen</div>
<div class="t" style="left: 76px; top: 288px; font-size: 12.9px; line-height: 18px; color: rgb(121, 135, 161); letter-spacing: -0.1px;">User ID: #1234</div>
<div class="t" style="left: 84px; top: 307.5px; font-size: 13px; line-height: 18px; color: rgb(238, 51, 94); letter-spacing: -0.01px;">Pending</div>
<svg class="abs" style="left:0;top:0;width:344px;height:480px" viewBox="0 0 344 480"><path d="M266.2 296.3 L272.5 296.6 L279.2 290.3 L285.3 299.2 L291.5 294.3 L298.3 299.7 L304.5 297.0 L311.2 299.2 L317.3 297.0 L323.5 302.1" fill="none" stroke="#36c18e" stroke-width="1.900" stroke-linejoin="round" stroke-linecap="round"></path></svg>
<div class="abs" style="left:0;top:338px;width:344px;height:1px;background:#e6ebf5"></div>
<svg class="abs" style="left:20px;top:354px;width:40px;height:40px" viewBox="0 0 40 40"><defs><clipPath id="cav3"><circle cx="20" cy="20" r="19.800"></circle></clipPath><filter id="bl3" x="-10%" y="-10%" width="120%" height="120%"><feGaussianBlur stdDeviation=".6"></feGaussianBlur></filter></defs><g clip-path="url(#cav3)"><g filter="url(#bl3)"><rect x="-2" y="-2" width="44" height="44" fill="#151a19"></rect><defs><linearGradient id="mfg" x1="0" x2="1"><stop offset="0" stop-color="#dcaa90"></stop><stop offset=".5" stop-color="#c48e76"></stop><stop offset=".56" stop-color="#6a4337"></stop><stop offset="1" stop-color="#3a2621"></stop></linearGradient></defs><ellipse cx="8.500" cy="22" rx="2" ry="3.500" fill="#c9957c"></ellipse><ellipse cx="31.500" cy="22" rx="2" ry="3.500" fill="#3e2a25"></ellipse><ellipse cx="20" cy="24" rx="10.500" ry="15" fill="url(#mfg)"></ellipse><path d="M8 18c-1-10 5-15 13-15s13 5 11 14c-2-5-6-7-11-7s-10 2-13 8z" fill="#2a211e"></path><path d="M3 42c1-7 4-10 8-12l5 12z" fill="#2b3236"></path><ellipse cx="20" cy="31" rx="3.200" ry="1" fill="#a85a58"></ellipse><rect x="12" y="17.500" width="6" height="1.300" fill="#3a2a25"></rect><rect x="22.500" y="17.500" width="6" height="1.300" fill="#2a1d1a"></rect></g></g></svg>
<div class="t" style="left: 76px; top: 355px; font-size: 15px; line-height: 20px; font-weight: 400; -webkit-text-stroke: 0.35px rgb(3, 27, 78); color: rgb(3, 27, 78); letter-spacing: 0.06px;">Manuel Labor</div>
<div class="t" style="left: 76px; top: 379px; font-size: 12.9px; line-height: 18px; color: rgb(121, 135, 161); letter-spacing: -0.1px;">User ID: #1234</div>
<div class="t" style="left: 172.8px; top: 379px; font-size: 13px; line-height: 18px; color: rgb(34, 192, 60); letter-spacing: -0.05px;">Paid</div>
<svg class="abs" style="left:0;top:0;width:344px;height:480px" viewBox="0 0 344 480"><path d="M262.0 383.2 L268.7 370.2 L275.9 375.8 L282.6 372.4 L289.7 383.9 L296.5 379.8 L303.4 382.7 L310.6 374.9 L317.3 377.1 L323.5 373.6" fill="none" stroke="#f59354" stroke-width="1.900" stroke-linejoin="round" stroke-linecap="round"></path></svg>
<div class="abs" style="left:0;top:409px;width:344px;height:1px;background:#e6ebf5"></div>
<svg class="abs" style="left:20px;top:425px;width:40px;height:40px" viewBox="0 0 40 40"><defs><clipPath id="cav4"><circle cx="20" cy="20" r="19.800"></circle></clipPath><filter id="bl4" x="-10%" y="-10%" width="120%" height="120%"><feGaussianBlur stdDeviation=".6"></feGaussianBlur></filter></defs><g clip-path="url(#cav4)"><g filter="url(#bl4)"><defs><radialGradient id="sbg" cx=".75" cy=".35" r=".8"><stop offset="0" stop-color="#3a4741"></stop><stop offset="1" stop-color="#141a18"></stop></radialGradient></defs><rect x="-2" y="-2" width="44" height="44" fill="url(#sbg)"></rect><path d="M3 40C2 22 8 5 20 2c9-2 13 6 12 15l-2 10-3 13z" fill="#a97b55"></path><ellipse cx="24" cy="21" rx="7.300" ry="10.300" fill="#dcae93"></ellipse><path d="M21 2c-7 3-12 12-12 23 0 6 0 11 2 16h6c-1-6-1-12 0-19 1-8 3-14 7-18z" fill="#8d6242"></path><path d="M19 31c2 2 7 2 9 0l2 5-9 4z" fill="#cf9f84"></path><path d="M20 42c1-5 4-8 9-9l6 2 6 7z" fill="#efeeee"></path><ellipse cx="23.500" cy="27.300" rx="2.300" ry=".9" fill="#b5605e"></ellipse><ellipse cx="20.500" cy="18.500" rx="1.600" ry=".7" fill="#6b5a58"></ellipse><ellipse cx="27" cy="18.500" rx="1.600" ry=".7" fill="#6b5a58"></ellipse></g></g></svg>
<div class="t" style="left: 76px; top: 426px; font-size: 15px; line-height: 20px; font-weight: 400; -webkit-text-stroke: 0.35px rgb(3, 27, 78); color: rgb(3, 27, 78); letter-spacing: -0.06px;">Sharon Needles</div>
<div class="t" style="left: 76px; top: 450px; font-size: 12.9px; line-height: 18px; color: rgb(121, 135, 161); letter-spacing: -0.1px;">User ID: #1234</div>
<div class="t" style="left: 172.8px; top: 450px; font-size: 13px; line-height: 18px; color: rgb(34, 192, 60); letter-spacing: -0.05px;">Paid</div>
<svg class="abs" style="left:0;top:0;width:344px;height:480px" viewBox="0 0 344 480"><path d="M262.0 454.8 L268.7 451.9 L275.9 440.3 L282.6 449.7 L289.7 454.2 L296.5 448.1 L303.4 455.9 L310.6 451.9 L317.3 441.8 L323.5 450.3" fill="none" stroke="#7c4fd0" stroke-width="1.900" stroke-linejoin="round" stroke-linecap="round"></path></svg>
</div>
<div class="card" style="left:631px;top:730px;width:344px;height:459px">
<div class="ctitle" style="left: 20px; top: 19px; font-size: 13.5px; letter-spacing: -0.12px;">SALES ACTIVITY</div>
<div class="csub" style="left: 20px; top: 44px; letter-spacing: 0.04px;">Sales activities are the tactics that salespeople use to</div>
<div class="csub" style="left: 20px; top: 62px; letter-spacing: 0.01px;">achieve their goals and objective</div>
<svg class="abs" style="left:0;top:0;width:344px;height:459px" viewBox="0 0 344 459"><defs><linearGradient id="gB" x1="0" x2="1" y1="0" y2="0"><stop offset="0" stop-color="#0162e8"></stop><stop offset="1" stop-color="#75a7ef"></stop></linearGradient><linearGradient id="gP" x1="0" x2="1" y1="1" y2="0"><stop offset="0" stop-color="#f93a5a"></stop><stop offset="1" stop-color="#f7778c"></stop></linearGradient><linearGradient id="gG" x1="0" x2="1" y1="0" y2="0"><stop offset="0" stop-color="#029666"></stop><stop offset="1" stop-color="#48d6a8"></stop></linearGradient><linearGradient id="gO" x1="0" x2="1" y1="0" y2="0"><stop offset="0" stop-color="#f76a2d"></stop><stop offset="1" stop-color="#efa65f"></stop></linearGradient><linearGradient id="gV" x1="0" x2="1" y1="0" y2="0"><stop offset="0" stop-color="#4712c5"></stop><stop offset="1" stop-color="#8a3deb"></stop></linearGradient></defs><path d="M41.400 114.500V418" stroke="#e3e6f3" stroke-width="1.600" stroke-dasharray="2.500 2.500"></path></svg>
<svg class="abs" style="left:22.9px;top:95.9px;width:37px;height:37px" viewBox="0 0 37 37"><circle cx="18.500" cy="18.500" r="18.500" fill="url(#gB)"></circle><g transform="translate(9.300 9.300) scale(.7667)" fill="none" stroke="#fff" stroke-width="2.500" stroke-linecap="round" stroke-linejoin="round"><path d="M21.210 15.890A10 10 0 1 1 8 2.830"></path><path d="M22 12A10 10 0 0 0 12 2v10z"></path></g></svg>
<div class="t" style="left: 68.5px; top: 97.1px; font-size: 14px; line-height: 18px; font-weight: 400; -webkit-text-stroke: 0.33px rgb(3, 27, 78); color: rgb(3, 27, 78); letter-spacing: 0.22px;">Total Products</div>
<div class="t" style="left: 68.5px; top: 118.2px; font-size: 12px; line-height: 16px; color: rgb(121, 135, 161); letter-spacing: 0.02px;">1.3k New Products</div>
<div class="t" style="right: 20px; top: 95.9px; font-size: 11px; line-height: 14px; color: rgb(121, 135, 161); letter-spacing: 0.02px;">3 days ago</div>
<svg class="abs" style="left:22.9px;top:156.9px;width:37px;height:37px" viewBox="0 0 37 37"><circle cx="18.500" cy="18.500" r="18.500" fill="url(#gP)"></circle><g transform="translate(9.300 9.300) scale(.7667)" fill="none" stroke="#fff" stroke-width="2.500" stroke-linecap="round" stroke-linejoin="round"><circle cx="9" cy="21" r="1"></circle><circle cx="20" cy="21" r="1"></circle><path d="M1 1h4l2.680 13.390a2 2 0 0 0 2 1.610h9.720a2 2 0 0 0 2-1.610L23 6H6"></path></g></svg>
<div class="t" style="left: 68.5px; top: 158.1px; font-size: 14px; line-height: 18px; font-weight: 400; -webkit-text-stroke: 0.33px rgb(3, 27, 78); color: rgb(3, 27, 78); letter-spacing: 0.13px;">Total Sales</div>
<div class="t" style="left: 68.5px; top: 179.2px; font-size: 12px; line-height: 16px; color: rgb(121, 135, 161); letter-spacing: -0.07px;">1k New Sales</div>
<div class="t" style="right: 20px; top: 156.9px; font-size: 11px; line-height: 14px; color: rgb(121, 135, 161); letter-spacing: 0.11px;">35 mins ago</div>
<svg class="abs" style="left:22.9px;top:217.9px;width:37px;height:37px" viewBox="0 0 37 37"><circle cx="18.500" cy="18.500" r="18.500" fill="url(#gG)"></circle><g transform="translate(9.300 9.300) scale(.7667)" fill="none" stroke="#fff" stroke-width="2.500" stroke-linecap="round" stroke-linejoin="round"><path d="M12 20V10M18 20V4M6 20v-4"></path></g></svg>
<div class="t" style="left: 68.5px; top: 219.1px; font-size: 14px; line-height: 18px; font-weight: 400; -webkit-text-stroke: 0.33px rgb(3, 27, 78); color: rgb(3, 27, 78); letter-spacing: -0.02px;">Total Revenue</div>
<div class="t" style="left: 68.5px; top: 240.2px; font-size: 11.8px; line-height: 16px; color: rgb(121, 135, 161); letter-spacing: -0.1px;">23.5K New Revenue</div>
<div class="t" style="right: 20px; top: 217.9px; font-size: 11px; line-height: 14px; color: rgb(121, 135, 161); letter-spacing: 0.11px;">50 mins ago</div>
<svg class="abs" style="left:22.9px;top:278.8px;width:37px;height:37px" viewBox="0 0 37 37"><circle cx="18.500" cy="18.500" r="18.500" fill="url(#gO)"></circle><g transform="translate(9.300 9.300) scale(.7667)" fill="none" stroke="#fff" stroke-width="2.500" stroke-linecap="round" stroke-linejoin="round"><path d="M21 16V8a2 2 0 0 0-1-1.730l-7-4a2 2 0 0 0-2 0l-7 4A2 2 0 0 0 3 8v8a2 2 0 0 0 1 1.730l7 4a2 2 0 0 0 2 0l7-4A2 2 0 0 0 21 16z"></path><polyline points="3.270 6.960 12 12.010 20.730 6.960"></polyline><line x1="12" y1="22.080" x2="12" y2="12"></line></g></svg>
<div class="t" style="left: 68.5px; top: 280px; font-size: 14px; line-height: 18px; font-weight: 400; -webkit-text-stroke: 0.33px rgb(3, 27, 78); color: rgb(3, 27, 78); letter-spacing: 0.37px;">Total Profit</div>
<div class="t" style="left: 68.5px; top: 301.1px; font-size: 12px; line-height: 16px; color: rgb(121, 135, 161); letter-spacing: 0.13px;">3k New profit</div>
<div class="t" style="right: 20px; top: 278.8px; font-size: 11px; line-height: 14px; color: rgb(121, 135, 161); letter-spacing: 0.04px;">1 hour ago</div>
<svg class="abs" style="left:22.9px;top:339.1px;width:37px;height:37px" viewBox="0 0 37 37"><circle cx="18.500" cy="18.500" r="18.500" fill="url(#gV)"></circle><g transform="translate(9.300 9.300) scale(.7667)" fill="none" stroke="#fff" stroke-width="2.500" stroke-linecap="round" stroke-linejoin="round"><path d="M1 12s4-8 11-8 11 8 11 8-4 8-11 8-11-8-11-8z"></path><circle cx="12" cy="12" r="3"></circle></g></svg>
<div class="t" style="left: 68.5px; top: 340.3px; font-size: 14px; line-height: 18px; font-weight: 400; -webkit-text-stroke: 0.33px rgb(3, 27, 78); color: rgb(3, 27, 78); letter-spacing: 0.21px;">Customer Visits</div>
<div class="t" style="left: 68.5px; top: 361.4px; font-size: 11.9px; line-height: 16px; color: rgb(121, 135, 161); letter-spacing: -0.09px;">15% increased</div>
<div class="t" style="right: 20px; top: 339.1px; font-size: 11px; line-height: 14px; color: rgb(121, 135, 161); letter-spacing: -0.04px;">1 day ago</div>
<svg class="abs" style="left:22.9px;top:400.1px;width:37px;height:37px" viewBox="0 0 37 37"><circle cx="18.500" cy="18.500" r="18.500" fill="url(#gB)"></circle><g transform="translate(9.300 9.300) scale(.7667)" fill="none" stroke="#fff" stroke-width="2.500" stroke-linecap="round" stroke-linejoin="round"><path d="M11 4H4a2 2 0 0 0-2 2v14a2 2 0 0 0 2 2h14a2 2 0 0 0 2-2v-7"></path><path d="M18.500 2.500a2.121 2.121 0 0 1 3 3L12 15l-4 1 1-4 9.500-9.500z"></path></g></svg>
<div class="t" style="left: 68.5px; top: 401.3px; font-size: 14px; line-height: 18px; font-weight: 400; -webkit-text-stroke: 0.33px rgb(3, 27, 78); color: rgb(3, 27, 78); letter-spacing: -0.01px;">Customer Reviews</div>
<div class="t" style="left: 68.5px; top: 422.4px; font-size: 12px; line-height: 16px; color: rgb(121, 135, 161); letter-spacing: -0.01px;">1.5k reviews</div>
<div class="t" style="right: 20px; top: 400.1px; font-size: 11px; line-height: 14px; color: rgb(121, 135, 161); letter-spacing: -0.04px;">1 day ago</div>
</div>
<div class="card" style="left:1001px;top:730px;width:344px;height:324px">
<div class="ctitle" style="left: 20px; top: 19px; font-size: 13.4px; letter-spacing: -0.53px;">RECENT ORDERS</div>
<div class="csub" style="left: 20px; top: 44px; letter-spacing: 0.01px;">An order is an investor's instructions to a broker or</div>
<div class="csub" style="left: 20px; top: 62px; letter-spacing: 0.02px;">brokerage firm to purchase or sell</div>
<svg class="abs" style="left:0;top:0;width:344px;height:324px" viewBox="0 0 344 324" font-family="Liberation Sans, sans-serif"><defs><linearGradient id="gg" gradientUnits="userSpaceOnUse" x1="111.1" y1="0" x2="234.1" y2="0"><stop offset="0" stop-color="#0162e8"></stop><stop offset=".35" stop-color="#0670e6"></stop><stop offset="1" stop-color="#0db8de"></stop></linearGradient></defs><path d="M134.77 208.33A53.5 53.5 0 1 1 210.43 208.33" fill="none" stroke="#f0f1f9" stroke-width="14.0"></path><path d="M134.77 208.33A53.5 53.5 0 1 1 226.09 169.66" fill="none" stroke="url(#gg)" stroke-width="15.5" stroke-dasharray="4 4"></path><text x="172.6" y="175.7" font-size="21" fill="#031b4e" text-anchor="middle">83%</text></svg>
<div class="abs" style="left:32px;top:243px;width:8px;height:8px;background:#0162e8"></div>
<div class="t" style="left: 50px; top: 238px; font-size: 14px; line-height: 18px; color: rgb(28, 39, 60); letter-spacing: -0.16px;">Delivered</div>
<div class="t" style="left: 32px; top: 258px; font-size: 21px; line-height: 26px; font-weight: 700; color: rgb(3, 27, 78); letter-spacing: 0.89px;">5238</div>
<div class="t" style="left: 32px; top: 287.8px; font-size: 14px; line-height: 18px; color: rgb(121, 135, 161); letter-spacing: 0.18px;">Last 6 months</div>
<div class="abs" style="left:184px;top:243px;width:8px;height:8px;background:#00b9ff"></div>
<div class="t" style="left: 202px; top: 238px; font-size: 14px; line-height: 18px; color: rgb(28, 39, 60); letter-spacing: 0px;">Cancelled</div>
<div class="t" style="left: 184px; top: 258px; font-size: 21px; line-height: 26px; font-weight: 700; color: rgb(3, 27, 78); letter-spacing: 0.89px;">3467</div>
<div class="t" style="left: 184px; top: 287.8px; font-size: 14px; line-height: 18px; color: rgb(121, 135, 161); letter-spacing: 0.18px;">Last 6 months</div>
</div>
<div class="card" style="left:1001px;top:1080px;width:344px;height:110px">
<div class="t" style="left: 20px; top: 20.8px; font-size: 14px; line-height: 18px; color: rgb(28, 39, 60); letter-spacing: 0.08px;">Total Sales</div>
<div class="t" style="left: 20px; top: 48.2px; font-size: 24.1px; line-height: 30px; font-weight: 700; color: rgb(3, 27, 78); letter-spacing: 0.49px;">$7,590</div>
<div class="abs" style="left:20px;top:85.800px;width:140px;height:3.600px;border-radius:2px;background:#edeff6"></div>
<div class="abs" style="left:20px;top:85.800px;width:109.5px;height:3.600px;border-radius:2px;background:linear-gradient(to right,#0162e8,#75a7ef)"></div>
<div class="abs" style="left:122.0px;top:80.200px;width:15px;height:15px;border-radius:50%;background:#fff;border:4px solid #0162e8;box-shadow:0 3px 5px rgba(60,70,100,.35)"></div>
<div class="t" style="left: 184px; top: 20.8px; font-size: 14px; line-height: 18px; color: rgb(28, 39, 60); letter-spacing: 0.01px;">Active Users</div>
<div class="t" style="left: 184px; top: 48.2px; font-size: 24.1px; line-height: 30px; font-weight: 700; color: rgb(3, 27, 78); letter-spacing: 0.49px;">$5,460</div>
<div class="abs" style="left:184px;top:85.800px;width:140px;height:3.600px;border-radius:2px;background:#edeff6"></div>
<div class="abs" style="left:184px;top:85.800px;width:60.4px;height:3.600px;border-radius:2px;background:linear-gradient(to right,#ee335e,#f5607b)"></div>
<div class="abs" style="left:236.9px;top:80.200px;width:15px;height:15px;border-radius:50%;background:#fff;border:4px solid #ee335e;box-shadow:0 3px 5px rgba(60,70,100,.35)"></div>
</div>
<div class="card" style="left:261px;top:1236px;width:344px;height:340px">
<div class="ctitle" style="left: 20px; top: 18.2px; font-size: 13.4px; letter-spacing: -0.7px;">YOUR TOP COUNTRIES</div>
<div class="csub" style="left: 20px; top: 41px; letter-spacing: -0.04px;">Sales performance revenue based by country</div>
<div class="abs" style="left:20px;top:67px;width:304px;height:253px;border:1px solid #e6ebf5;border-radius:5px"></div>
<div class="t" style="left: 31px; top: 78.5px; font-size: 14px; line-height: 18px; color: rgb(28, 39, 60); letter-spacing: -0.03px;">United States</div>
<div class="t" style="right: 31px; top: 78.5px; font-size: 13.7px; line-height: 18px; font-weight: 700; color: rgb(3, 27, 78); letter-spacing: 0.28px;">$1,671.10</div>
<div class="abs" style="left:21px;top:109px;width:302px;height:1px;background:#e6ebf5"></div>
<div class="t" style="left: 31px; top: 120.5px; font-size: 14px; line-height: 18px; color: rgb(28, 39, 60); letter-spacing: 0.09px;">Netherlands</div>
<div class="t" style="right: 31px; top: 120.5px; font-size: 13.7px; line-height: 18px; font-weight: 700; color: rgb(3, 27, 78); letter-spacing: 0.28px;">$1,064.75</div>
<div class="abs" style="left:21px;top:151px;width:302px;height:1px;background:#e6ebf5"></div>
<div class="t" style="left: 31px; top: 162.5px; font-size: 14px; line-height: 18px; color: rgb(28, 39, 60); letter-spacing: 0.06px;">United Kingdom</div>
<div class="t" style="right: 31px; top: 162.5px; font-size: 13.7px; line-height: 18px; font-weight: 700; color: rgb(3, 27, 78); letter-spacing: 0.28px;">$1,055.98</div>
<div class="abs" style="left:21px;top:193px;width:302px;height:1px;background:#e6ebf5"></div>
<div class="t" style="left: 31px; top: 204.5px; font-size: 13.9px; line-height: 18px; color: rgb(28, 39, 60); letter-spacing: -0.1px;">Canada</div>
<div class="t" style="right: 31px; top: 204.5px; font-size: 13.7px; line-height: 18px; font-weight: 700; color: rgb(3, 27, 78); letter-spacing: 0.28px;">$1,045.49</div>
<div class="abs" style="left:21px;top:235px;width:302px;height:1px;background:#e6ebf5"></div>
<div class="t" style="left: 31px; top: 246.5px; font-size: 14px; line-height: 18px; color: rgb(28, 39, 60); letter-spacing: 0.18px;">India</div>
<div class="t" style="right: 31px; top: 246.5px; font-size: 13.7px; line-height: 18px; font-weight: 700; color: rgb(3, 27, 78); letter-spacing: 0.28px;">$1,930.12</div>
<div class="abs" style="left:21px;top:277px;width:302px;height:1px;background:#e6ebf5"></div>
<div class="t" style="left: 31px; top: 288.5px; font-size: 14px; line-height: 18px; color: rgb(28, 39, 60); letter-spacing: 0.14px;">Australia</div>
<div class="t" style="right: 31px; top: 288.5px; font-size: 13.7px; line-height: 18px; font-weight: 700; color: rgb(3, 27, 78); letter-spacing: 0.28px;">$1,042.00</div>
</div>
<div class="card" style="left:631px;top:1236px;width:714px;height:340px">
<div class="ctitle" style="left: 20px; top: 19px; font-size: 13.4px; letter-spacing: -0.31px;">YOUR MOST RECENT EARNINGS</div>
<div class="csub" style="left: 20px; top: 48px; letter-spacing: 0.01px;">This is your most recent earnings for today's date.</div>
<div class="abs" style="left:666px;top:20px;width:28px;height:28px;border-radius:50%;border:1px solid #e9edf6;background:#fff"></div>
<svg class="abs" style="left:674px;top:32px;width:12px;height:4px" viewBox="0 0 12 4"><circle cx="2.300" cy="2" r="1.250" fill="#1c273c"></circle><circle cx="6" cy="2" r="1.250" fill="#1c273c"></circle><circle cx="9.700" cy="2" r="1.250" fill="#1c273c"></circle></svg>
<div class="abs" style="left:20px;top:120.20000000000005px;width:674.3px;height:39.09999999999991px;background:#ecf0fa"></div>
<div class="abs" style="left:20px;top:199.0999999999999px;width:674.3px;height:40.100000000000136px;background:#ecf0fa"></div>
<div class="abs" style="left:20px;top:279.0999999999999px;width:674.3px;height:39.80000000000018px;background:#ecf0fa"></div>
<div class="abs" style="left:20px;top:82.40000000000009px;width:674.3px;height:1px;background:#e3e7f3"></div>
<div class="abs" style="left:20px;top:120.20000000000005px;width:674.3px;height:1px;background:#e3e7f3"></div>
<div class="abs" style="left:20px;top:159.29999999999995px;width:674.3px;height:1px;background:#e3e7f3"></div>
<div class="abs" style="left:20px;top:199.0999999999999px;width:674.3px;height:1px;background:#e3e7f3"></div>
<div class="abs" style="left:20px;top:239.20000000000005px;width:674.3px;height:1px;background:#e3e7f3"></div>
<div class="abs" style="left:20px;top:279.0999999999999px;width:674.3px;height:1px;background:#e3e7f3"></div>
<div class="abs" style="left:20px;top:318.9000000000001px;width:674.3px;height:1px;background:#e3e7f3"></div>
<div class="abs" style="left:20px;top:82.40000000000009px;width:1px;height:237.5px;background:#e3e7f3"></div>
<div class="abs" style="left:190px;top:82.40000000000009px;width:1px;height:237.5px;background:#e3e7f3"></div>
<div class="abs" style="left:371px;top:82.40000000000009px;width:1px;height:237.5px;background:#e3e7f3"></div>
<div class="abs" style="left:517px;top:82.40000000000009px;width:1px;height:237.5px;background:#e3e7f3"></div>
<div class="abs" style="left:693.5px;top:82.40000000000009px;width:1px;height:237.5px;background:#e3e7f3"></div>
<div class="t" style="left: 36.5px; top: 93px; font-size: 11.9px; line-height: 16px; font-weight: 700; color: rgb(28, 39, 60); letter-spacing: -0.14px;">DATE</div>
<div class="t" style="left: 206.5px; top: 93px; font-size: 11.9px; line-height: 16px; font-weight: 700; color: rgb(28, 39, 60); letter-spacing: -0.12px;">SALES COUNT</div>
<div class="t" style="left: 387.5px; top: 93px; font-size: 12px; line-height: 16px; font-weight: 700; color: rgb(28, 39, 60); letter-spacing: -0.04px;">EARNINGS</div>
<div class="t" style="left: 533.5px; top: 93px; font-size: 12px; line-height: 16px; font-weight: 700; color: rgb(28, 39, 60); letter-spacing: 0.15px;">TAX WITHELD</div>
<div class="t" style="left: 36.5px; top: 130.15px; font-size: 14px; line-height: 18px; color: rgb(28, 39, 60); letter-spacing: -0.06px;">05 Dec 2019</div>
<div class="t" style="left: 206.5px; top: 130.15px; font-size: 14.5px; line-height: 18px; font-weight: 700; color: rgb(28, 39, 60); letter-spacing: 0.26px;">34</div>
<div class="t" style="left: 387.5px; top: 130.15px; font-size: 14px; line-height: 18px; font-weight: 700; color: rgb(28, 39, 60); letter-spacing: 0.28px;">$658.20</div>
<div class="t" style="left: 532.5px; top: 130.15px; font-size: 14px; line-height: 18px; color: rgb(28, 39, 60); letter-spacing: 0.3px;">-$45.10</div>
<div class="t" style="left: 36.5px; top: 169.6px; font-size: 14px; line-height: 18px; color: rgb(28, 39, 60); letter-spacing: -0.06px;">06 Dec 2019</div>
<div class="t" style="left: 206.5px; top: 169.6px; font-size: 14.5px; line-height: 18px; font-weight: 700; color: rgb(28, 39, 60); letter-spacing: 0.26px;">26</div>
<div class="t" style="left: 387.5px; top: 169.6px; font-size: 14px; line-height: 18px; font-weight: 700; color: rgb(28, 39, 60); letter-spacing: 0.28px;">$453.25</div>
<div class="t" style="left: 532.5px; top: 169.6px; font-size: 14px; line-height: 18px; color: rgb(238, 51, 94); letter-spacing: 0.3px;">-$15.02</div>
<div class="t" style="left: 36.5px; top: 209.55px; font-size: 14px; line-height: 18px; color: rgb(28, 39, 60); letter-spacing: -0.06px;">07 Dec 2019</div>
<div class="t" style="left: 206.5px; top: 209.55px; font-size: 14.5px; line-height: 18px; font-weight: 700; color: rgb(28, 39, 60); letter-spacing: 0.26px;">34</div>
<div class="t" style="left: 387.5px; top: 209.55px; font-size: 14px; line-height: 18px; font-weight: 700; color: rgb(28, 39, 60); letter-spacing: 0.28px;">$653.12</div>
<div class="t" style="left: 532.5px; top: 209.55px; font-size: 14px; line-height: 18px; color: rgb(28, 39, 60); letter-spacing: 0.3px;">-$13.45</div>
<div class="t" style="left: 36.5px; top: 249.55px; font-size: 14px; line-height: 18px; color: rgb(28, 39, 60); letter-spacing: -0.06px;">08 Dec 2019</div>
<div class="t" style="left: 206.5px; top: 249.55px; font-size: 14.5px; line-height: 18px; font-weight: 700; color: rgb(28, 39, 60); letter-spacing: 0.26px;">45</div>
<div class="t" style="left: 387.5px; top: 249.55px; font-size: 14px; line-height: 18px; font-weight: 700; color: rgb(28, 39, 60); letter-spacing: 0.28px;">$546.47</div>
<div class="t" style="left: 532.5px; top: 249.55px; font-size: 14px; line-height: 18px; color: rgb(238, 51, 94); letter-spacing: 0.3px;">-$24.22</div>
<div class="t" style="left: 36.5px; top: 289.4px; font-size: 14px; line-height: 18px; color: rgb(28, 39, 60); letter-spacing: -0.06px;">09 Dec 2019</div>
<div class="t" style="left: 206.5px; top: 289.4px; font-size: 14.5px; line-height: 18px; font-weight: 700; color: rgb(28, 39, 60); letter-spacing: 0.26px;">31</div>
<div class="t" style="left: 387.5px; top: 289.4px; font-size: 14px; line-height: 18px; font-weight: 700; color: rgb(28, 39, 60); letter-spacing: 0.28px;">$425.72</div>
<div class="t" style="left: 532.5px; top: 289.4px; font-size: 14px; line-height: 18px; color: rgb(28, 39, 60); letter-spacing: 0.3px;">-$25.01</div>
</div>
<div class="abs" style="left:0;top:1600px;width:1366px;height:54px;background:#fff;border-top:1px solid #e7ebf5"></div>
<div class="t" id="foot" style="left:583px;top:1618px;font-size:14px;line-height:18px;color:#7987a1;letter-spacing:-.12px">Copyright © 2025 <b style="color:#1c273c">Valex</b>. Designed with <svg style="display:inline-block;vertical-align:-3px;width:15.500px;height:15.500px" viewBox="0 0 24 24"><path d="M12 21.500C5 15.500 1.500 12 1.500 7.800 1.500 4.500 4 2.300 7 2.300c2 0 3.800 1 5 2.700 1.200-1.700 3-2.700 5-2.700 3 0 5.500 2.200 5.500 5.500 0 4.200-3.500 7.700-10.500 13.700z" fill="#ee335e"></path></svg> by <b style="color:#0162e8;text-decoration:underline">Spruko</b> All rights reserved</div>
<div class="abs" style="left:1296px;top:1584px;width:50px;height:50px;border-radius:4px;background:#0162e8;box-shadow:0 4px 12px rgba(1,98,232,.25)"></div>
<svg class="abs" style="left:1314px;top:1602px;width:14px;height:14px" viewBox="0 0 14 14" fill="none" stroke="#fff" stroke-width="1.400" stroke-linecap="round" stroke-linejoin="round"><path d="M2.500 7 7 2.500 11.500 7M2.500 11.500 7 7l4.500 4.500"></path></svg>


</body></html>
